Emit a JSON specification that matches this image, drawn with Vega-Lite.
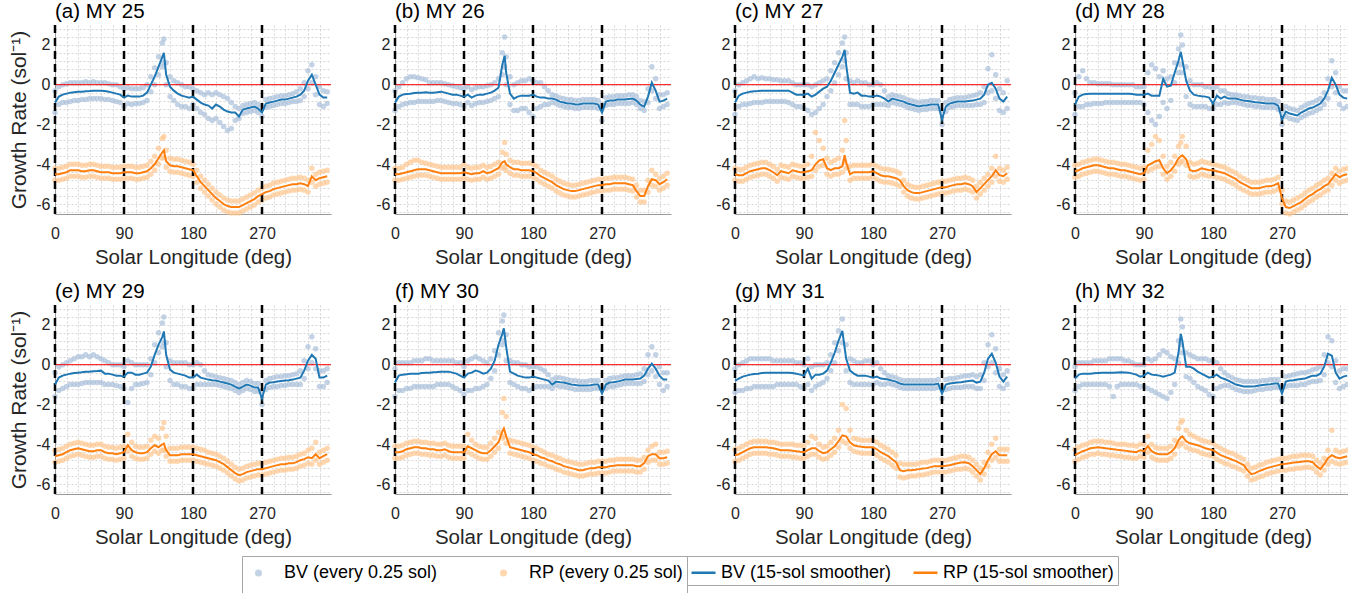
{
"$schema":"https://vega.github.io/schema/vega-lite/v6.json",
"background":"white",
"padding":{"left":8,"top":2,"right":0,"bottom":0},
"config":{
"font":"Liberation Sans",
"view":{"stroke":null},
"axis":{"labelFont":"Liberation Sans","labelFontSize":16,"labelColor":"#262626","titleFont":"Liberation Sans","titleFontSize":20.5,"titleFontWeight":"normal","titleColor":"#262626","grid":true,"gridColor":"#d6d6d6","gridDash":[2,2],"gridWidth":1,"ticks":false,"domainColor":"#9a9a9a","domainWidth":1,"labelOverlap":false,"labelBound":false},
"axisX":{"labelPadding":11,"titlePadding":6,"labelFlush":false},
"axisY":{"labelPadding":5,"titlePadding":6,"titleFontSize":21},
"title":{"font":"Liberation Sans","fontSize":20.5,"fontWeight":"normal","anchor":"start","color":"#000000","offset":-2,"baseline":"alphabetic","frame":"group"},
"legend":{"layout":{"bottom":{"anchor":"middle","margin":0,"bounds":"flush"}}}
},
"datasets":{
"a":[
{"x":0,"B":-0.9,"b":-0.3,"c":-1.4,"R":-4.5,"r":-4.2,"s":-4.8},
{"x":5,"B":-0.6,"b":-0.1,"c":-1.0,"R":-4.5,"r":-4.2,"s":-4.8},
{"x":10,"B":-0.5,"b":0.0,"c":-0.9,"R":-4.45,"r":-4.15,"s":-4.75},
{"x":15,"B":-0.45,"b":0.05,"c":-0.9,"R":-4.4,"r":-4.1,"s":-4.7},
{"x":20,"B":-0.4,"b":0.1,"c":-0.85,"R":-4.3,"r":-4.0,"s":-4.6},
{"x":25,"B":-0.38,"b":0.1,"c":-0.8,"R":-4.3,"r":-4.0,"s":-4.6},
{"x":30,"B":-0.36,"b":0.1,"c":-0.8,"R":-4.3,"r":-4.0,"s":-4.6},
{"x":35,"B":-0.35,"b":0.1,"c":-0.75,"R":-4.35,"r":-4.05,"s":-4.65},
{"x":40,"B":-0.33,"b":0.15,"c":-0.75,"R":-4.35,"r":-4.05,"s":-4.65},
{"x":45,"B":-0.32,"b":0.1,"c":-0.7,"R":-4.3,"r":-4.0,"s":-4.6},
{"x":50,"B":-0.3,"b":0.15,"c":-0.7,"R":-4.3,"r":-4.0,"s":-4.6},
{"x":55,"B":-0.3,"b":0.1,"c":-0.7,"R":-4.35,"r":-4.05,"s":-4.65},
{"x":60,"B":-0.3,"b":0.1,"c":-0.7,"R":-4.4,"r":-4.1,"s":-4.7},
{"x":65,"B":-0.32,"b":0.1,"c":-0.75,"R":-4.4,"r":-4.1,"s":-4.7},
{"x":70,"B":-0.35,"b":0.05,"c":-0.75,"R":-4.4,"r":-4.1,"s":-4.7},
{"x":75,"B":-0.4,"b":0.0,"c":-0.8,"R":-4.45,"r":-4.15,"s":-4.75},
{"x":80,"B":-0.45,"b":0.0,"c":-0.85,"R":-4.45,"r":-4.15,"s":-4.75},
{"x":85,"B":-0.5,"b":-0.1,"c":-0.9,"R":-4.45,"r":-4.15,"s":-4.75},
{"x":90,"B":-0.65,"b":-0.2,"c":-1.1,"R":-4.4,"r":-4.1,"s":-4.7},
{"x":95,"B":-0.55,"b":-0.15,"c":-0.95,"R":-4.4,"r":-4.1,"s":-4.7},
{"x":100,"B":-0.6,"b":-0.2,"c":-1.0,"R":-4.4,"r":-4.1,"s":-4.7},
{"x":105,"B":-0.6,"b":-0.2,"c":-0.95,"R":-4.45,"r":-4.15,"s":-4.75},
{"x":110,"B":-0.6,"b":-0.2,"c":-0.95,"R":-4.45,"r":-4.15,"s":-4.75},
{"x":115,"B":-0.55,"b":-0.15,"c":-0.9,"R":-4.4,"r":-4.1,"s":-4.7},
{"x":120,"B":-0.4,"b":0.0,"c":-0.8,"R":-4.35,"r":-4.05,"s":-4.65},
{"x":125,"B":0.0,"b":0.4,"c":-0.35,"R":-4.2,"r":-3.85,"s":-4.5},
{"x":130,"B":0.4,"b":0.85,"c":0.0,"R":-4.0,"r":-3.6,"s":-4.3},
{"x":135,"B":0.9,"b":1.4,"c":0.5,"R":-3.7,"r":-3.2,"s":-4.0},
{"x":140,"B":1.4,"b":2.1,"c":0.9,"R":-3.4,"r":-2.7,"s":-3.7},
{"x":142,"B":1.6,"b":2.3,"c":1.1,"R":-3.3,"r":-2.6,"s":-3.65},
{"x":145,"B":0.5,"b":1.1,"c":0.0,"R":-3.85,"r":-3.3,"s":-4.15},
{"x":150,"B":-0.1,"b":0.4,"c":-0.6,"R":-4.05,"r":-3.7,"s":-4.35},
{"x":155,"B":-0.3,"b":0.2,"c":-0.8,"R":-4.1,"r":-3.75,"s":-4.4},
{"x":160,"B":-0.45,"b":0.1,"c":-1.0,"R":-4.1,"r":-3.75,"s":-4.4},
{"x":165,"B":-0.55,"b":0.0,"c":-1.1,"R":-4.15,"r":-3.8,"s":-4.45},
{"x":170,"B":-0.6,"b":-0.1,"c":-1.1,"R":-4.2,"r":-3.85,"s":-4.5},
{"x":175,"B":-0.65,"b":-0.1,"c":-1.2,"R":-4.25,"r":-3.9,"s":-4.55},
{"x":180,"B":-0.6,"b":-0.2,"c":-1.0,"R":-4.3,"r":-4.0,"s":-4.6},
{"x":185,"B":-0.75,"b":-0.3,"c":-1.2,"R":-4.6,"r":-4.3,"s":-4.9},
{"x":190,"B":-0.9,"b":-0.4,"c":-1.4,"R":-4.9,"r":-4.6,"s":-5.2},
{"x":195,"B":-1.0,"b":-0.5,"c":-1.5,"R":-5.1,"r":-4.8,"s":-5.4},
{"x":200,"B":-1.05,"b":-0.4,"c":-1.7,"R":-5.3,"r":-5.0,"s":-5.6},
{"x":205,"B":-1.2,"b":-0.5,"c":-1.8,"R":-5.5,"r":-5.2,"s":-5.8},
{"x":210,"B":-1.0,"b":-0.4,"c":-1.7,"R":-5.7,"r":-5.4,"s":-6.0},
{"x":215,"B":-1.1,"b":-0.5,"c":-1.9,"R":-5.85,"r":-5.55,"s":-6.15},
{"x":220,"B":-1.25,"b":-0.6,"c":-2.1,"R":-6.0,"r":-5.7,"s":-6.3},
{"x":225,"B":-1.35,"b":-0.7,"c":-2.3,"R":-6.1,"r":-5.8,"s":-6.4},
{"x":230,"B":-1.4,"b":-0.9,"c":-2.2,"R":-6.15,"r":-5.85,"s":-6.45},
{"x":235,"B":-1.4,"b":-1.1,"c":-1.8,"R":-6.15,"r":-5.85,"s":-6.45},
{"x":240,"B":-1.6,"b":-1.2,"c":-1.7,"R":-6.15,"r":-5.85,"s":-6.45},
{"x":245,"B":-1.25,"b":-1.05,"c":-1.45,"R":-6.05,"r":-5.75,"s":-6.35},
{"x":250,"B":-1.2,"b":-1.0,"c":-1.4,"R":-5.95,"r":-5.65,"s":-6.25},
{"x":255,"B":-1.15,"b":-0.95,"c":-1.35,"R":-5.85,"r":-5.55,"s":-6.15},
{"x":260,"B":-1.1,"b":-0.9,"c":-1.3,"R":-5.75,"r":-5.45,"s":-6.05},
{"x":265,"B":-1.2,"b":-1.0,"c":-1.4,"R":-5.6,"r":-5.3,"s":-5.9},
{"x":270,"B":-1.4,"b":-1.1,"c":-1.6,"R":-5.5,"r":-5.2,"s":-5.8},
{"x":275,"B":-0.95,"b":-0.75,"c":-1.15,"R":-5.4,"r":-5.1,"s":-5.7},
{"x":280,"B":-0.9,"b":-0.7,"c":-1.1,"R":-5.35,"r":-5.05,"s":-5.65},
{"x":285,"B":-0.85,"b":-0.65,"c":-1.05,"R":-5.25,"r":-4.95,"s":-5.55},
{"x":290,"B":-0.8,"b":-0.6,"c":-1.0,"R":-5.2,"r":-4.9,"s":-5.5},
{"x":295,"B":-0.75,"b":-0.55,"c":-0.95,"R":-5.15,"r":-4.85,"s":-5.45},
{"x":300,"B":-0.75,"b":-0.55,"c":-0.95,"R":-5.1,"r":-4.8,"s":-5.4},
{"x":305,"B":-0.7,"b":-0.5,"c":-0.9,"R":-5.05,"r":-4.75,"s":-5.35},
{"x":310,"B":-0.65,"b":-0.45,"c":-0.85,"R":-5.0,"r":-4.7,"s":-5.3},
{"x":315,"B":-0.6,"b":-0.35,"c":-0.85,"R":-5.0,"r":-4.7,"s":-5.3},
{"x":320,"B":-0.5,"b":-0.2,"c":-0.8,"R":-4.95,"r":-4.65,"s":-5.25},
{"x":325,"B":-0.3,"b":0.1,"c":-0.6,"R":-5.0,"r":-4.7,"s":-5.3},
{"x":330,"B":0.2,"b":0.7,"c":-0.2,"R":-5.1,"r":-4.8,"s":-5.4},
{"x":335,"B":0.5,"b":1.0,"c":0.1,"R":-4.6,"r":-4.2,"s":-4.9},
{"x":340,"B":0.0,"b":0.4,"c":-0.5,"R":-4.8,"r":-4.5,"s":-5.1},
{"x":345,"B":-0.5,"b":-0.1,"c":-1.0,"R":-4.7,"r":-4.4,"s":-5.0},
{"x":350,"B":-0.65,"b":-0.3,"c":-1.1,"R":-4.65,"r":-4.35,"s":-4.95},
{"x":355,"B":-0.65,"b":-0.35,"c":-0.95,"R":-4.6,"r":-4.3,"s":-4.9}
],
"b":[
{"x":0,"B":-0.9,"b":-0.3,"c":-1.3,"R":-4.5,"r":-4.2,"s":-4.8},
{"x":5,"B":-0.6,"b":-0.1,"c":-1.1,"R":-4.5,"r":-4.2,"s":-4.8},
{"x":10,"B":-0.5,"b":0.1,"c":-1.0,"R":-4.45,"r":-4.15,"s":-4.75},
{"x":15,"B":-0.47,"b":0.3,"c":-0.95,"R":-4.4,"r":-4.0,"s":-4.7},
{"x":20,"B":-0.45,"b":0.4,"c":-0.9,"R":-4.35,"r":-3.9,"s":-4.65},
{"x":25,"B":-0.42,"b":0.4,"c":-0.9,"R":-4.3,"r":-3.8,"s":-4.6},
{"x":30,"B":-0.4,"b":0.35,"c":-0.85,"R":-4.25,"r":-3.8,"s":-4.55},
{"x":35,"B":-0.4,"b":0.3,"c":-0.85,"R":-4.25,"r":-3.9,"s":-4.55},
{"x":40,"B":-0.38,"b":0.25,"c":-0.85,"R":-4.25,"r":-3.95,"s":-4.55},
{"x":45,"B":-0.4,"b":0.1,"c":-0.85,"R":-4.3,"r":-4.0,"s":-4.6},
{"x":50,"B":-0.4,"b":0.1,"c":-0.85,"R":-4.35,"r":-4.05,"s":-4.65},
{"x":55,"B":-0.38,"b":0.1,"c":-0.8,"R":-4.4,"r":-4.1,"s":-4.7},
{"x":60,"B":-0.35,"b":0.1,"c":-0.8,"R":-4.45,"r":-4.15,"s":-4.75},
{"x":65,"B":-0.4,"b":0.05,"c":-0.85,"R":-4.45,"r":-4.15,"s":-4.75},
{"x":70,"B":-0.45,"b":0.0,"c":-0.9,"R":-4.45,"r":-4.15,"s":-4.75},
{"x":75,"B":-0.5,"b":-0.05,"c":-0.95,"R":-4.45,"r":-4.15,"s":-4.75},
{"x":80,"B":-0.5,"b":-0.1,"c":-0.95,"R":-4.45,"r":-4.15,"s":-4.75},
{"x":85,"B":-0.55,"b":-0.15,"c":-1.0,"R":-4.45,"r":-4.15,"s":-4.75},
{"x":90,"B":-0.6,"b":-0.2,"c":-1.1,"R":-4.4,"r":-4.0,"s":-4.7},
{"x":95,"B":-0.5,"b":-0.1,"c":-0.9,"R":-4.45,"r":-4.15,"s":-4.75},
{"x":100,"B":-0.65,"b":-0.25,"c":-1.05,"R":-4.5,"r":-4.2,"s":-4.8},
{"x":105,"B":-0.55,"b":-0.15,"c":-0.95,"R":-4.45,"r":-4.15,"s":-4.75},
{"x":110,"B":-0.5,"b":-0.1,"c":-0.9,"R":-4.45,"r":-4.15,"s":-4.75},
{"x":115,"B":-0.5,"b":-0.1,"c":-0.9,"R":-4.35,"r":-4.05,"s":-4.65},
{"x":120,"B":-0.45,"b":-0.05,"c":-0.85,"R":-4.45,"r":-4.15,"s":-4.75},
{"x":125,"B":-0.4,"b":0.0,"c":-0.8,"R":-4.4,"r":-4.1,"s":-4.7},
{"x":130,"B":-0.3,"b":0.1,"c":-0.7,"R":-4.3,"r":-4.0,"s":-4.6},
{"x":135,"B":-0.15,"b":0.3,"c":-0.6,"R":-4.2,"r":-3.9,"s":-4.5},
{"x":140,"B":1.0,"b":1.6,"c":0.5,"R":-3.9,"r":-3.4,"s":-4.2},
{"x":143,"B":1.45,"b":2.4,"c":0.9,"R":-3.85,"r":-2.9,"s":-4.15},
{"x":145,"B":0.6,"b":1.4,"c":0.0,"R":-4.0,"r":-3.5,"s":-4.3},
{"x":150,"B":-0.45,"b":0.4,"c":-1.0,"R":-4.15,"r":-3.8,"s":-4.45},
{"x":155,"B":-0.7,"b":0.0,"c":-1.3,"R":-4.25,"r":-3.9,"s":-4.55},
{"x":160,"B":-0.6,"b":0.1,"c":-1.3,"R":-4.25,"r":-3.9,"s":-4.55},
{"x":165,"B":-0.55,"b":0.2,"c":-1.2,"R":-4.3,"r":-3.95,"s":-4.6},
{"x":170,"B":-0.55,"b":0.2,"c":-1.2,"R":-4.3,"r":-3.95,"s":-4.6},
{"x":175,"B":-0.55,"b":0.3,"c":-1.4,"R":-4.3,"r":-3.95,"s":-4.6},
{"x":180,"B":-0.5,"b":0.2,"c":-1.6,"R":-4.35,"r":-4.0,"s":-4.65},
{"x":185,"B":-0.6,"b":0.1,"c":-1.2,"R":-4.45,"r":-4.1,"s":-4.75},
{"x":190,"B":-0.65,"b":0.1,"c":-1.1,"R":-4.6,"r":-4.3,"s":-4.9},
{"x":195,"B":-0.65,"b":-0.1,"c":-1.0,"R":-4.7,"r":-4.4,"s":-5.0},
{"x":200,"B":-0.7,"b":-0.3,"c":-1.0,"R":-4.8,"r":-4.5,"s":-5.1},
{"x":205,"B":-0.7,"b":-0.5,"c":-0.9,"R":-4.9,"r":-4.6,"s":-5.2},
{"x":210,"B":-0.75,"b":-0.55,"c":-0.95,"R":-5.05,"r":-4.75,"s":-5.35},
{"x":215,"B":-0.85,"b":-0.65,"c":-1.05,"R":-5.15,"r":-4.85,"s":-5.45},
{"x":220,"B":-0.9,"b":-0.7,"c":-1.1,"R":-5.25,"r":-4.95,"s":-5.55},
{"x":225,"B":-0.95,"b":-0.75,"c":-1.15,"R":-5.3,"r":-5.0,"s":-5.6},
{"x":230,"B":-0.95,"b":-0.75,"c":-1.15,"R":-5.35,"r":-5.05,"s":-5.65},
{"x":235,"B":-1.0,"b":-0.8,"c":-1.2,"R":-5.35,"r":-5.05,"s":-5.65},
{"x":240,"B":-1.0,"b":-0.8,"c":-1.2,"R":-5.3,"r":-5.0,"s":-5.6},
{"x":245,"B":-0.95,"b":-0.75,"c":-1.15,"R":-5.25,"r":-4.95,"s":-5.55},
{"x":250,"B":-0.95,"b":-0.75,"c":-1.15,"R":-5.2,"r":-4.9,"s":-5.5},
{"x":255,"B":-0.95,"b":-0.75,"c":-1.15,"R":-5.15,"r":-4.85,"s":-5.45},
{"x":260,"B":-0.95,"b":-0.75,"c":-1.15,"R":-5.1,"r":-4.8,"s":-5.4},
{"x":265,"B":-1.0,"b":-0.8,"c":-1.2,"R":-5.05,"r":-4.75,"s":-5.35},
{"x":270,"B":-1.4,"b":-1.0,"c":-1.8,"R":-5.05,"r":-4.75,"s":-5.35},
{"x":275,"B":-0.85,"b":-0.65,"c":-1.05,"R":-5.0,"r":-4.7,"s":-5.3},
{"x":280,"B":-0.8,"b":-0.6,"c":-1.0,"R":-5.0,"r":-4.7,"s":-5.3},
{"x":285,"B":-0.8,"b":-0.6,"c":-1.0,"R":-4.95,"r":-4.65,"s":-5.25},
{"x":290,"B":-0.75,"b":-0.55,"c":-0.95,"R":-4.95,"r":-4.65,"s":-5.25},
{"x":295,"B":-0.75,"b":-0.55,"c":-0.95,"R":-4.95,"r":-4.65,"s":-5.25},
{"x":300,"B":-0.75,"b":-0.55,"c":-0.95,"R":-4.95,"r":-4.65,"s":-5.25},
{"x":305,"B":-0.72,"b":-0.5,"c":-0.95,"R":-5.0,"r":-4.7,"s":-5.3},
{"x":310,"B":-0.7,"b":-0.5,"c":-0.9,"R":-5.05,"r":-4.75,"s":-5.35},
{"x":315,"B":-0.8,"b":-0.6,"c":-1.0,"R":-5.35,"r":-5.05,"s":-5.65},
{"x":320,"B":-1.0,"b":-0.8,"c":-1.2,"R":-5.6,"r":-5.3,"s":-5.9},
{"x":325,"B":-1.1,"b":-0.85,"c":-1.3,"R":-5.6,"r":-5.3,"s":-5.9},
{"x":330,"B":-0.6,"b":-0.2,"c":-0.9,"R":-5.1,"r":-4.8,"s":-5.4},
{"x":335,"B":0.1,"b":0.9,"c":-0.3,"R":-4.75,"r":-4.3,"s":-5.05},
{"x":340,"B":-0.3,"b":0.3,"c":-0.7,"R":-4.8,"r":-4.5,"s":-5.1},
{"x":345,"B":-0.85,"b":-0.5,"c":-1.2,"R":-5.0,"r":-4.7,"s":-5.3},
{"x":350,"B":-0.8,"b":-0.5,"c":-1.1,"R":-4.9,"r":-4.6,"s":-5.2},
{"x":355,"B":-0.7,"b":-0.4,"c":-1.0,"R":-4.75,"r":-4.45,"s":-5.05}
],
"c":[
{"x":0,"B":-0.9,"b":-0.3,"c":-1.5,"R":-4.5,"r":-4.2,"s":-4.8},
{"x":5,"B":-0.55,"b":0.0,"c":-1.1,"R":-4.55,"r":-4.25,"s":-4.85},
{"x":10,"B":-0.45,"b":0.1,"c":-1.0,"R":-4.55,"r":-4.25,"s":-4.85},
{"x":15,"B":-0.4,"b":0.2,"c":-1.0,"R":-4.45,"r":-4.15,"s":-4.75},
{"x":20,"B":-0.35,"b":0.3,"c":-0.95,"R":-4.35,"r":-4.05,"s":-4.65},
{"x":25,"B":-0.33,"b":0.4,"c":-0.9,"R":-4.3,"r":-4.0,"s":-4.6},
{"x":30,"B":-0.32,"b":0.3,"c":-0.9,"R":-4.25,"r":-3.95,"s":-4.55},
{"x":35,"B":-0.3,"b":0.35,"c":-0.9,"R":-4.2,"r":-3.9,"s":-4.5},
{"x":40,"B":-0.3,"b":0.3,"c":-0.85,"R":-4.2,"r":-3.9,"s":-4.5},
{"x":45,"B":-0.3,"b":0.3,"c":-0.85,"R":-4.3,"r":-4.0,"s":-4.6},
{"x":50,"B":-0.3,"b":0.25,"c":-0.85,"R":-4.4,"r":-4.1,"s":-4.7},
{"x":55,"B":-0.3,"b":0.25,"c":-0.85,"R":-4.55,"r":-4.25,"s":-4.85},
{"x":60,"B":-0.3,"b":0.2,"c":-0.85,"R":-4.35,"r":-4.05,"s":-4.65},
{"x":65,"B":-0.3,"b":0.2,"c":-0.85,"R":-4.4,"r":-4.1,"s":-4.7},
{"x":70,"B":-0.3,"b":0.2,"c":-0.9,"R":-4.45,"r":-4.15,"s":-4.75},
{"x":75,"B":-0.4,"b":0.1,"c":-1.0,"R":-4.3,"r":-4.0,"s":-4.6},
{"x":80,"B":-0.5,"b":0.0,"c":-1.1,"R":-4.35,"r":-4.05,"s":-4.65},
{"x":85,"B":-0.5,"b":0.0,"c":-1.1,"R":-4.4,"r":-4.1,"s":-4.7},
{"x":90,"B":-0.5,"b":0.0,"c":-1.2,"R":-4.4,"r":-4.1,"s":-4.7},
{"x":95,"B":-0.45,"b":0.0,"c":-1.3,"R":-4.35,"r":-4.0,"s":-4.65},
{"x":100,"B":-0.6,"b":-0.1,"c":-1.5,"R":-4.3,"r":-3.6,"s":-4.6},
{"x":105,"B":-0.5,"b":0.0,"c":-1.4,"R":-4.0,"r":-2.4,"s":-4.3},
{"x":110,"B":-0.35,"b":0.1,"c":-1.2,"R":-3.8,"r":-2.8,"s":-4.1},
{"x":115,"B":-0.2,"b":0.2,"c":-1.0,"R":-3.75,"r":-3.2,"s":-4.05},
{"x":120,"B":-0.1,"b":0.3,"c":-0.6,"R":-4.2,"r":-3.7,"s":-4.5},
{"x":125,"B":0.2,"b":0.7,"c":-0.3,"R":-4.3,"r":-3.9,"s":-4.6},
{"x":130,"B":0.6,"b":1.1,"c":0.1,"R":-4.2,"r":-3.8,"s":-4.5},
{"x":135,"B":1.0,"b":1.6,"c":0.5,"R":-4.2,"r":-3.7,"s":-4.5},
{"x":140,"B":1.4,"b":2.1,"c":0.9,"R":-4.1,"r":-3.3,"s":-4.4},
{"x":143,"B":1.75,"b":2.4,"c":1.2,"R":-3.55,"r":-1.8,"s":-3.9},
{"x":145,"B":1.0,"b":1.6,"c":0.3,"R":-3.9,"r":-2.8,"s":-4.2},
{"x":150,"B":-0.4,"b":0.2,"c":-1.0,"R":-4.5,"r":-4.1,"s":-4.8},
{"x":155,"B":-0.45,"b":0.1,"c":-1.0,"R":-4.4,"r":-4.05,"s":-4.7},
{"x":160,"B":-0.4,"b":0.2,"c":-1.0,"R":-4.4,"r":-4.05,"s":-4.7},
{"x":165,"B":-0.55,"b":0.1,"c":-1.1,"R":-4.4,"r":-4.05,"s":-4.7},
{"x":170,"B":-0.55,"b":0.1,"c":-1.1,"R":-4.4,"r":-4.05,"s":-4.7},
{"x":175,"B":-0.6,"b":0.0,"c":-1.1,"R":-4.4,"r":-4.05,"s":-4.7},
{"x":180,"B":-0.6,"b":0.0,"c":-1.0,"R":-4.35,"r":-4.0,"s":-4.65},
{"x":185,"B":-0.55,"b":0.1,"c":-1.0,"R":-4.45,"r":-4.1,"s":-4.75},
{"x":190,"B":-0.6,"b":0.0,"c":-1.0,"R":-4.55,"r":-4.2,"s":-4.85},
{"x":195,"B":-0.7,"b":-0.3,"c":-1.0,"R":-4.6,"r":-4.25,"s":-4.9},
{"x":200,"B":-0.85,"b":-0.6,"c":-1.05,"R":-4.6,"r":-4.25,"s":-4.9},
{"x":205,"B":-0.7,"b":-0.5,"c":-0.9,"R":-4.65,"r":-4.3,"s":-4.95},
{"x":210,"B":-0.75,"b":-0.55,"c":-0.95,"R":-4.7,"r":-4.35,"s":-5.0},
{"x":215,"B":-0.8,"b":-0.6,"c":-1.0,"R":-4.8,"r":-4.45,"s":-5.1},
{"x":220,"B":-0.85,"b":-0.65,"c":-1.05,"R":-5.1,"r":-4.8,"s":-5.4},
{"x":225,"B":-0.95,"b":-0.75,"c":-1.15,"R":-5.3,"r":-5.0,"s":-5.6},
{"x":230,"B":-1.0,"b":-0.8,"c":-1.2,"R":-5.4,"r":-5.1,"s":-5.7},
{"x":235,"B":-1.05,"b":-0.85,"c":-1.25,"R":-5.45,"r":-5.15,"s":-5.75},
{"x":240,"B":-1.1,"b":-0.9,"c":-1.3,"R":-5.45,"r":-5.15,"s":-5.75},
{"x":245,"B":-1.05,"b":-0.85,"c":-1.25,"R":-5.4,"r":-5.1,"s":-5.7},
{"x":250,"B":-1.05,"b":-0.85,"c":-1.25,"R":-5.35,"r":-5.05,"s":-5.65},
{"x":255,"B":-1.0,"b":-0.8,"c":-1.2,"R":-5.3,"r":-5.0,"s":-5.6},
{"x":260,"B":-1.0,"b":-0.8,"c":-1.2,"R":-5.25,"r":-4.95,"s":-5.55},
{"x":265,"B":-1.0,"b":-0.8,"c":-1.2,"R":-5.2,"r":-4.9,"s":-5.5},
{"x":270,"B":-1.75,"b":-1.3,"c":-2.0,"R":-5.15,"r":-4.85,"s":-5.45},
{"x":275,"B":-1.1,"b":-0.9,"c":-1.35,"R":-5.15,"r":-4.85,"s":-5.45},
{"x":280,"B":-0.95,"b":-0.75,"c":-1.15,"R":-5.1,"r":-4.8,"s":-5.4},
{"x":285,"B":-0.9,"b":-0.7,"c":-1.1,"R":-5.05,"r":-4.75,"s":-5.35},
{"x":290,"B":-0.85,"b":-0.65,"c":-1.05,"R":-5.0,"r":-4.7,"s":-5.3},
{"x":295,"B":-0.85,"b":-0.65,"c":-1.05,"R":-5.0,"r":-4.7,"s":-5.3},
{"x":300,"B":-0.85,"b":-0.65,"c":-1.05,"R":-4.95,"r":-4.65,"s":-5.25},
{"x":305,"B":-0.82,"b":-0.6,"c":-1.05,"R":-5.0,"r":-4.7,"s":-5.3},
{"x":310,"B":-0.8,"b":-0.55,"c":-1.05,"R":-5.1,"r":-4.8,"s":-5.4},
{"x":315,"B":-0.75,"b":-0.5,"c":-1.0,"R":-5.4,"r":-5.1,"s":-5.7},
{"x":320,"B":-0.7,"b":-0.4,"c":-1.0,"R":-5.2,"r":-4.9,"s":-5.5},
{"x":325,"B":-0.5,"b":-0.1,"c":-0.9,"R":-5.0,"r":-4.7,"s":-5.3},
{"x":330,"B":0.0,"b":0.8,"c":-0.4,"R":-4.8,"r":-4.5,"s":-5.1},
{"x":335,"B":0.1,"b":1.5,"c":-0.3,"R":-4.6,"r":-4.2,"s":-4.9},
{"x":340,"B":-0.2,"b":0.5,"c":-0.7,"R":-4.3,"r":-3.6,"s":-4.6},
{"x":345,"B":-0.7,"b":-0.2,"c":-1.3,"R":-4.55,"r":-4.2,"s":-4.85},
{"x":350,"B":-0.85,"b":-0.4,"c":-1.4,"R":-4.6,"r":-4.3,"s":-4.9},
{"x":355,"B":-0.6,"b":0.2,"c":-1.2,"R":-4.45,"r":-4.15,"s":-4.75}
],
"d":[
{"x":0,"B":-1.0,"b":-0.4,"c":-1.5,"R":-4.35,"r":-4.05,"s":-4.65},
{"x":5,"B":-0.6,"b":0.4,"c":-1.1,"R":-4.3,"r":-4.0,"s":-4.6},
{"x":10,"B":-0.5,"b":0.7,"c":-1.1,"R":-4.2,"r":-3.9,"s":-4.5},
{"x":15,"B":-0.47,"b":0.3,"c":-1.0,"R":-4.15,"r":-3.85,"s":-4.45},
{"x":20,"B":-0.45,"b":0.1,"c":-1.0,"R":-4.1,"r":-3.8,"s":-4.4},
{"x":25,"B":-0.45,"b":0.1,"c":-0.95,"R":-4.05,"r":-3.75,"s":-4.35},
{"x":30,"B":-0.45,"b":0.05,"c":-0.95,"R":-4.05,"r":-3.75,"s":-4.35},
{"x":35,"B":-0.45,"b":0.05,"c":-0.95,"R":-4.1,"r":-3.8,"s":-4.4},
{"x":40,"B":-0.45,"b":0.05,"c":-0.9,"R":-4.15,"r":-3.85,"s":-4.45},
{"x":45,"B":-0.45,"b":0.05,"c":-0.9,"R":-4.2,"r":-3.9,"s":-4.5},
{"x":50,"B":-0.45,"b":0.0,"c":-0.9,"R":-4.2,"r":-3.9,"s":-4.5},
{"x":55,"B":-0.45,"b":0.0,"c":-0.9,"R":-4.25,"r":-3.95,"s":-4.55},
{"x":60,"B":-0.45,"b":0.0,"c":-0.9,"R":-4.3,"r":-4.0,"s":-4.6},
{"x":65,"B":-0.45,"b":0.0,"c":-0.9,"R":-4.3,"r":-4.0,"s":-4.6},
{"x":70,"B":-0.45,"b":0.0,"c":-0.9,"R":-4.35,"r":-4.05,"s":-4.65},
{"x":75,"B":-0.47,"b":0.0,"c":-0.9,"R":-4.4,"r":-4.1,"s":-4.7},
{"x":80,"B":-0.5,"b":-0.1,"c":-0.9,"R":-4.45,"r":-4.15,"s":-4.75},
{"x":85,"B":-0.5,"b":-0.1,"c":-0.9,"R":-4.5,"r":-4.2,"s":-4.8},
{"x":90,"B":-0.5,"b":-0.1,"c":-1.0,"R":-4.45,"r":-4.15,"s":-4.75},
{"x":95,"B":-0.45,"b":0.6,"c":-1.4,"R":-4.05,"r":-3.3,"s":-4.35},
{"x":100,"B":-0.55,"b":1.0,"c":-1.8,"R":-3.95,"r":-3.0,"s":-4.25},
{"x":105,"B":-0.55,"b":0.8,"c":-2.0,"R":-3.85,"r":-2.6,"s":-4.15},
{"x":110,"B":-0.55,"b":0.4,"c":-1.6,"R":-3.8,"r":-2.8,"s":-4.1},
{"x":115,"B":0.3,"b":0.7,"c":-0.9,"R":-4.2,"r":-3.6,"s":-4.5},
{"x":120,"B":-0.1,"b":0.3,"c":-1.2,"R":-4.45,"r":-4.1,"s":-4.75},
{"x":125,"B":-0.05,"b":0.4,"c":-0.8,"R":-4.3,"r":-3.9,"s":-4.6},
{"x":130,"B":0.6,"b":1.1,"c":0.1,"R":-4.05,"r":-3.6,"s":-4.35},
{"x":135,"B":1.2,"b":1.8,"c":0.6,"R":-3.7,"r":-3.1,"s":-4.0},
{"x":138,"B":1.65,"b":2.5,"c":1.0,"R":-3.6,"r":-2.9,"s":-3.9},
{"x":140,"B":1.25,"b":2.0,"c":0.6,"R":-3.55,"r":-2.6,"s":-3.85},
{"x":145,"B":0.2,"b":0.9,"c":-0.6,"R":-3.75,"r":-3.1,"s":-4.05},
{"x":150,"B":-0.3,"b":0.2,"c":-1.0,"R":-4.3,"r":-3.9,"s":-4.6},
{"x":155,"B":-0.5,"b":0.0,"c":-1.1,"R":-4.35,"r":-4.0,"s":-4.65},
{"x":160,"B":-0.55,"b":0.0,"c":-1.1,"R":-4.3,"r":-3.95,"s":-4.6},
{"x":165,"B":-0.58,"b":0.0,"c":-1.1,"R":-4.2,"r":-3.85,"s":-4.5},
{"x":170,"B":-0.6,"b":-0.1,"c":-1.1,"R":-4.25,"r":-3.9,"s":-4.55},
{"x":175,"B":-0.65,"b":-0.1,"c":-1.2,"R":-4.3,"r":-3.95,"s":-4.6},
{"x":180,"B":-0.95,"b":-0.2,"c":-1.2,"R":-4.3,"r":-4.0,"s":-4.6},
{"x":185,"B":-0.55,"b":-0.1,"c":-1.0,"R":-4.35,"r":-4.05,"s":-4.65},
{"x":190,"B":-0.7,"b":-0.3,"c":-1.0,"R":-4.4,"r":-4.1,"s":-4.7},
{"x":195,"B":-0.6,"b":-0.3,"c":-0.9,"R":-4.45,"r":-4.15,"s":-4.75},
{"x":200,"B":-0.7,"b":-0.45,"c":-0.95,"R":-4.55,"r":-4.25,"s":-4.85},
{"x":205,"B":-0.7,"b":-0.5,"c":-0.9,"R":-4.65,"r":-4.35,"s":-4.95},
{"x":210,"B":-0.7,"b":-0.5,"c":-0.9,"R":-4.75,"r":-4.45,"s":-5.05},
{"x":215,"B":-0.75,"b":-0.55,"c":-0.95,"R":-4.9,"r":-4.6,"s":-5.2},
{"x":220,"B":-0.8,"b":-0.6,"c":-1.0,"R":-5.0,"r":-4.7,"s":-5.3},
{"x":225,"B":-0.82,"b":-0.6,"c":-1.05,"R":-5.1,"r":-4.8,"s":-5.4},
{"x":230,"B":-0.85,"b":-0.65,"c":-1.05,"R":-5.2,"r":-4.9,"s":-5.5},
{"x":235,"B":-0.88,"b":-0.65,"c":-1.1,"R":-5.2,"r":-4.9,"s":-5.5},
{"x":240,"B":-0.9,"b":-0.7,"c":-1.1,"R":-5.2,"r":-4.9,"s":-5.5},
{"x":245,"B":-0.92,"b":-0.7,"c":-1.15,"R":-5.15,"r":-4.85,"s":-5.45},
{"x":250,"B":-0.95,"b":-0.75,"c":-1.15,"R":-5.1,"r":-4.8,"s":-5.4},
{"x":255,"B":-0.95,"b":-0.75,"c":-1.15,"R":-5.1,"r":-4.8,"s":-5.4},
{"x":260,"B":-0.95,"b":-0.75,"c":-1.15,"R":-5.05,"r":-4.75,"s":-5.35},
{"x":265,"B":-1.05,"b":-0.85,"c":-1.25,"R":-4.95,"r":-4.65,"s":-5.25},
{"x":270,"B":-1.75,"b":-1.3,"c":-2.0,"R":-5.7,"r":-5.3,"s":-6.0},
{"x":275,"B":-1.35,"b":-1.1,"c":-1.6,"R":-6.15,"r":-5.85,"s":-6.45},
{"x":280,"B":-1.45,"b":-1.2,"c":-1.7,"R":-6.2,"r":-5.9,"s":-6.5},
{"x":285,"B":-1.5,"b":-1.25,"c":-1.75,"R":-6.1,"r":-5.8,"s":-6.4},
{"x":290,"B":-1.55,"b":-1.3,"c":-1.8,"R":-6.0,"r":-5.7,"s":-6.3},
{"x":295,"B":-1.4,"b":-1.15,"c":-1.65,"R":-5.9,"r":-5.6,"s":-6.2},
{"x":300,"B":-1.3,"b":-1.05,"c":-1.55,"R":-5.75,"r":-5.45,"s":-6.05},
{"x":305,"B":-1.2,"b":-0.95,"c":-1.45,"R":-5.6,"r":-5.3,"s":-5.9},
{"x":310,"B":-1.15,"b":-0.9,"c":-1.4,"R":-5.5,"r":-5.2,"s":-5.8},
{"x":315,"B":-1.05,"b":-0.8,"c":-1.3,"R":-5.35,"r":-5.05,"s":-5.65},
{"x":320,"B":-0.95,"b":-0.7,"c":-1.2,"R":-5.25,"r":-4.95,"s":-5.55},
{"x":325,"B":-0.7,"b":-0.4,"c":-1.0,"R":-5.1,"r":-4.8,"s":-5.4},
{"x":330,"B":-0.3,"b":0.3,"c":-0.7,"R":-5.0,"r":-4.7,"s":-5.3},
{"x":335,"B":0.35,"b":1.2,"c":-0.1,"R":-4.75,"r":-4.45,"s":-5.05},
{"x":340,"B":0.0,"b":0.6,"c":-0.4,"R":-4.5,"r":-4.2,"s":-4.8},
{"x":345,"B":-0.5,"b":-0.1,"c":-1.0,"R":-4.65,"r":-4.35,"s":-4.95},
{"x":350,"B":-0.65,"b":-0.3,"c":-1.2,"R":-4.55,"r":-4.25,"s":-4.85},
{"x":355,"B":-0.7,"b":-0.3,"c":-1.1,"R":-4.5,"r":-4.2,"s":-4.8}
],
"e":[
{"x":0,"B":-1.0,"b":-0.4,"c":-1.6,"R":-4.6,"r":-4.3,"s":-4.9},
{"x":5,"B":-0.65,"b":-0.1,"c":-1.3,"R":-4.55,"r":-4.25,"s":-4.85},
{"x":10,"B":-0.55,"b":0.0,"c":-1.2,"R":-4.5,"r":-4.2,"s":-4.8},
{"x":15,"B":-0.5,"b":0.1,"c":-1.1,"R":-4.4,"r":-4.1,"s":-4.7},
{"x":20,"B":-0.45,"b":0.2,"c":-1.0,"R":-4.3,"r":-4.0,"s":-4.6},
{"x":25,"B":-0.42,"b":0.3,"c":-1.0,"R":-4.25,"r":-3.95,"s":-4.55},
{"x":30,"B":-0.4,"b":0.4,"c":-1.0,"R":-4.2,"r":-3.9,"s":-4.5},
{"x":35,"B":-0.38,"b":0.4,"c":-0.95,"R":-4.25,"r":-3.95,"s":-4.55},
{"x":40,"B":-0.35,"b":0.5,"c":-0.9,"R":-4.3,"r":-4.0,"s":-4.6},
{"x":45,"B":-0.35,"b":0.4,"c":-0.9,"R":-4.35,"r":-4.05,"s":-4.65},
{"x":50,"B":-0.33,"b":0.5,"c":-0.9,"R":-4.35,"r":-4.05,"s":-4.65},
{"x":55,"B":-0.32,"b":0.4,"c":-0.9,"R":-4.3,"r":-4.0,"s":-4.6},
{"x":60,"B":-0.3,"b":0.3,"c":-0.9,"R":-4.3,"r":-4.0,"s":-4.6},
{"x":65,"B":-0.45,"b":0.2,"c":-1.0,"R":-4.4,"r":-4.1,"s":-4.7},
{"x":70,"B":-0.45,"b":0.1,"c":-1.0,"R":-4.45,"r":-4.15,"s":-4.75},
{"x":75,"B":-0.5,"b":0.0,"c":-1.0,"R":-4.45,"r":-4.15,"s":-4.75},
{"x":80,"B":-0.55,"b":0.0,"c":-1.05,"R":-4.5,"r":-4.2,"s":-4.8},
{"x":85,"B":-0.55,"b":0.0,"c":-1.1,"R":-4.45,"r":-4.15,"s":-4.75},
{"x":90,"B":-0.6,"b":-0.1,"c":-1.2,"R":-4.4,"r":-4.1,"s":-4.7},
{"x":95,"B":-0.4,"b":0.2,"c":-1.9,"R":-4.05,"r":-3.5,"s":-4.35},
{"x":100,"B":-0.4,"b":0.1,"c":-1.2,"R":-4.3,"r":-3.9,"s":-4.6},
{"x":105,"B":-0.5,"b":0.0,"c":-1.0,"R":-4.4,"r":-4.1,"s":-4.7},
{"x":110,"B":-0.5,"b":0.0,"c":-1.0,"R":-4.45,"r":-4.15,"s":-4.75},
{"x":115,"B":-0.45,"b":0.0,"c":-0.95,"R":-4.45,"r":-4.15,"s":-4.75},
{"x":120,"B":-0.4,"b":0.0,"c":-0.9,"R":-4.4,"r":-4.1,"s":-4.7},
{"x":125,"B":-0.1,"b":0.3,"c":-0.5,"R":-4.2,"r":-3.8,"s":-4.5},
{"x":130,"B":0.5,"b":1.0,"c":0.1,"R":-4.05,"r":-3.6,"s":-4.35},
{"x":135,"B":1.0,"b":1.6,"c":0.6,"R":-4.15,"r":-3.7,"s":-4.45},
{"x":140,"B":1.4,"b":2.1,"c":0.9,"R":-4.0,"r":-3.2,"s":-4.3},
{"x":142,"B":1.67,"b":2.4,"c":1.1,"R":-3.97,"r":-2.9,"s":-4.3},
{"x":145,"B":0.5,"b":1.1,"c":-0.1,"R":-4.3,"r":-3.6,"s":-4.6},
{"x":150,"B":-0.25,"b":0.2,"c":-0.8,"R":-4.55,"r":-4.2,"s":-4.85},
{"x":155,"B":-0.4,"b":0.1,"c":-1.0,"R":-4.55,"r":-4.2,"s":-4.85},
{"x":160,"B":-0.45,"b":0.1,"c":-1.0,"R":-4.55,"r":-4.2,"s":-4.85},
{"x":165,"B":-0.5,"b":0.1,"c":-1.1,"R":-4.5,"r":-4.15,"s":-4.8},
{"x":170,"B":-0.55,"b":0.1,"c":-1.1,"R":-4.5,"r":-4.15,"s":-4.8},
{"x":175,"B":-0.65,"b":0.0,"c":-1.2,"R":-4.5,"r":-4.15,"s":-4.8},
{"x":180,"B":-0.65,"b":0.0,"c":-1.2,"R":-4.5,"r":-4.15,"s":-4.8},
{"x":185,"B":-0.5,"b":0.1,"c":-1.0,"R":-4.55,"r":-4.2,"s":-4.85},
{"x":190,"B":-0.65,"b":0.0,"c":-1.0,"R":-4.6,"r":-4.25,"s":-4.9},
{"x":195,"B":-0.7,"b":-0.3,"c":-1.0,"R":-4.65,"r":-4.3,"s":-4.95},
{"x":200,"B":-0.75,"b":-0.5,"c":-1.0,"R":-4.7,"r":-4.4,"s":-5.0},
{"x":205,"B":-0.78,"b":-0.55,"c":-1.0,"R":-4.75,"r":-4.45,"s":-5.05},
{"x":210,"B":-0.8,"b":-0.6,"c":-1.0,"R":-4.8,"r":-4.5,"s":-5.1},
{"x":215,"B":-0.85,"b":-0.65,"c":-1.05,"R":-4.9,"r":-4.6,"s":-5.2},
{"x":220,"B":-0.9,"b":-0.7,"c":-1.1,"R":-5.0,"r":-4.7,"s":-5.3},
{"x":225,"B":-0.95,"b":-0.75,"c":-1.15,"R":-5.15,"r":-4.85,"s":-5.45},
{"x":230,"B":-1.0,"b":-0.8,"c":-1.2,"R":-5.3,"r":-5.0,"s":-5.6},
{"x":235,"B":-1.1,"b":-0.9,"c":-1.3,"R":-5.45,"r":-5.15,"s":-5.75},
{"x":240,"B":-1.2,"b":-1.0,"c":-1.4,"R":-5.55,"r":-5.25,"s":-5.85},
{"x":245,"B":-1.1,"b":-0.9,"c":-1.3,"R":-5.5,"r":-5.2,"s":-5.8},
{"x":250,"B":-1.0,"b":-0.8,"c":-1.2,"R":-5.4,"r":-5.1,"s":-5.7},
{"x":255,"B":-1.05,"b":-0.85,"c":-1.25,"R":-5.35,"r":-5.05,"s":-5.65},
{"x":260,"B":-1.15,"b":-0.95,"c":-1.35,"R":-5.3,"r":-5.0,"s":-5.6},
{"x":265,"B":-1.15,"b":-0.95,"c":-1.35,"R":-5.25,"r":-4.95,"s":-5.55},
{"x":270,"B":-1.7,"b":-1.3,"c":-2.0,"R":-5.25,"r":-4.95,"s":-5.55},
{"x":275,"B":-1.0,"b":-0.8,"c":-1.25,"R":-5.2,"r":-4.9,"s":-5.5},
{"x":280,"B":-0.9,"b":-0.7,"c":-1.15,"R":-5.15,"r":-4.85,"s":-5.45},
{"x":285,"B":-0.88,"b":-0.65,"c":-1.1,"R":-5.1,"r":-4.8,"s":-5.4},
{"x":290,"B":-0.85,"b":-0.6,"c":-1.1,"R":-5.05,"r":-4.75,"s":-5.35},
{"x":295,"B":-0.82,"b":-0.6,"c":-1.05,"R":-5.0,"r":-4.7,"s":-5.3},
{"x":300,"B":-0.8,"b":-0.55,"c":-1.05,"R":-5.0,"r":-4.7,"s":-5.3},
{"x":305,"B":-0.78,"b":-0.55,"c":-1.0,"R":-4.95,"r":-4.65,"s":-5.25},
{"x":310,"B":-0.75,"b":-0.5,"c":-1.0,"R":-4.95,"r":-4.65,"s":-5.25},
{"x":315,"B":-0.7,"b":-0.45,"c":-1.0,"R":-4.9,"r":-4.6,"s":-5.2},
{"x":320,"B":-0.65,"b":-0.3,"c":-1.0,"R":-4.8,"r":-4.5,"s":-5.1},
{"x":325,"B":-0.3,"b":0.2,"c":-0.7,"R":-4.75,"r":-4.45,"s":-5.05},
{"x":330,"B":0.2,"b":0.9,"c":-0.2,"R":-4.65,"r":-4.3,"s":-4.95},
{"x":335,"B":0.5,"b":1.4,"c":0.1,"R":-4.7,"r":-4.2,"s":-5.0},
{"x":340,"B":0.3,"b":0.8,"c":-0.2,"R":-4.5,"r":-3.9,"s":-4.8},
{"x":345,"B":-0.65,"b":-0.3,"c":-1.1,"R":-4.7,"r":-4.4,"s":-5.0},
{"x":350,"B":-0.65,"b":-0.3,"c":-1.1,"R":-4.6,"r":-4.3,"s":-4.9},
{"x":355,"B":-0.55,"b":-0.2,"c":-0.9,"R":-4.5,"r":-4.2,"s":-4.8}
],
"f":[
{"x":0,"B":-0.9,"b":-0.2,"c":-1.6,"R":-4.4,"r":-4.1,"s":-4.7},
{"x":5,"B":-0.55,"b":0.1,"c":-1.3,"R":-4.4,"r":-4.1,"s":-4.7},
{"x":10,"B":-0.5,"b":0.1,"c":-1.3,"R":-4.35,"r":-4.05,"s":-4.65},
{"x":15,"B":-0.48,"b":0.1,"c":-1.2,"R":-4.25,"r":-3.95,"s":-4.55},
{"x":20,"B":-0.45,"b":0.1,"c":-1.2,"R":-4.2,"r":-3.9,"s":-4.5},
{"x":25,"B":-0.45,"b":0.2,"c":-1.1,"R":-4.15,"r":-3.85,"s":-4.45},
{"x":30,"B":-0.45,"b":0.2,"c":-1.1,"R":-4.15,"r":-3.85,"s":-4.45},
{"x":35,"B":-0.42,"b":0.2,"c":-1.1,"R":-4.2,"r":-3.9,"s":-4.5},
{"x":40,"B":-0.4,"b":0.3,"c":-1.1,"R":-4.2,"r":-3.9,"s":-4.5},
{"x":45,"B":-0.4,"b":0.3,"c":-1.1,"R":-4.25,"r":-3.95,"s":-4.55},
{"x":50,"B":-0.38,"b":0.2,"c":-1.1,"R":-4.25,"r":-3.95,"s":-4.55},
{"x":55,"B":-0.37,"b":0.2,"c":-1.0,"R":-4.3,"r":-4.0,"s":-4.6},
{"x":60,"B":-0.35,"b":0.2,"c":-1.0,"R":-4.3,"r":-4.0,"s":-4.6},
{"x":65,"B":-0.35,"b":0.2,"c":-1.0,"R":-4.25,"r":-3.95,"s":-4.55},
{"x":70,"B":-0.35,"b":0.2,"c":-1.0,"R":-4.35,"r":-4.05,"s":-4.65},
{"x":75,"B":-0.4,"b":0.2,"c":-1.1,"R":-4.4,"r":-4.1,"s":-4.7},
{"x":80,"B":-0.45,"b":0.1,"c":-1.2,"R":-4.4,"r":-4.1,"s":-4.7},
{"x":85,"B":-0.55,"b":0.1,"c":-1.3,"R":-4.4,"r":-4.1,"s":-4.7},
{"x":90,"B":-0.65,"b":-0.1,"c":-1.5,"R":-4.4,"r":-4.1,"s":-4.7},
{"x":95,"B":-0.45,"b":0.2,"c":-1.3,"R":-4.1,"r":-3.5,"s":-4.4},
{"x":100,"B":-0.4,"b":0.3,"c":-1.3,"R":-4.2,"r":-3.8,"s":-4.5},
{"x":105,"B":-0.3,"b":0.4,"c":-1.2,"R":-4.3,"r":-4.0,"s":-4.6},
{"x":110,"B":-0.35,"b":0.3,"c":-1.2,"R":-4.4,"r":-4.1,"s":-4.7},
{"x":115,"B":-0.45,"b":0.2,"c":-1.1,"R":-4.45,"r":-4.15,"s":-4.75},
{"x":120,"B":-0.4,"b":0.1,"c":-1.0,"R":-4.45,"r":-4.15,"s":-4.75},
{"x":125,"B":-0.2,"b":0.3,"c":-0.7,"R":-4.3,"r":-3.95,"s":-4.6},
{"x":130,"B":0.2,"b":0.7,"c":-0.3,"R":-4.1,"r":-3.7,"s":-4.4},
{"x":135,"B":1.0,"b":1.6,"c":0.5,"R":-3.9,"r":-3.4,"s":-4.2},
{"x":140,"B":1.55,"b":2.2,"c":1.0,"R":-3.35,"r":-2.4,"s":-3.7},
{"x":142,"B":1.83,"b":2.5,"c":1.2,"R":-3.2,"r":-1.7,"s":-3.6},
{"x":145,"B":0.9,"b":1.5,"c":0.2,"R":-3.6,"r":-2.6,"s":-3.95},
{"x":150,"B":-0.35,"b":0.2,"c":-0.9,"R":-4.15,"r":-3.8,"s":-4.45},
{"x":155,"B":-0.45,"b":0.1,"c":-1.0,"R":-4.2,"r":-3.85,"s":-4.5},
{"x":160,"B":-0.55,"b":0.1,"c":-1.1,"R":-4.25,"r":-3.9,"s":-4.55},
{"x":165,"B":-0.6,"b":0.0,"c":-1.2,"R":-4.3,"r":-3.95,"s":-4.6},
{"x":170,"B":-0.65,"b":0.0,"c":-1.2,"R":-4.35,"r":-4.0,"s":-4.65},
{"x":175,"B":-0.65,"b":-0.1,"c":-1.3,"R":-4.4,"r":-4.05,"s":-4.7},
{"x":180,"B":-0.6,"b":-0.1,"c":-1.2,"R":-4.5,"r":-4.15,"s":-4.8},
{"x":185,"B":-0.65,"b":-0.1,"c":-1.1,"R":-4.55,"r":-4.2,"s":-4.85},
{"x":190,"B":-0.7,"b":-0.2,"c":-1.1,"R":-4.65,"r":-4.3,"s":-4.95},
{"x":195,"B":-0.75,"b":-0.3,"c":-1.1,"R":-4.7,"r":-4.4,"s":-5.0},
{"x":200,"B":-0.8,"b":-0.5,"c":-1.1,"R":-4.8,"r":-4.5,"s":-5.1},
{"x":205,"B":-1.0,"b":-0.75,"c":-1.2,"R":-4.85,"r":-4.55,"s":-5.15},
{"x":210,"B":-0.85,"b":-0.65,"c":-1.05,"R":-4.95,"r":-4.65,"s":-5.25},
{"x":215,"B":-0.88,"b":-0.65,"c":-1.1,"R":-5.0,"r":-4.7,"s":-5.3},
{"x":220,"B":-0.9,"b":-0.7,"c":-1.1,"R":-5.1,"r":-4.8,"s":-5.4},
{"x":225,"B":-0.95,"b":-0.75,"c":-1.15,"R":-5.15,"r":-4.85,"s":-5.45},
{"x":230,"B":-1.0,"b":-0.8,"c":-1.2,"R":-5.2,"r":-4.9,"s":-5.5},
{"x":235,"B":-1.02,"b":-0.8,"c":-1.25,"R":-5.25,"r":-4.95,"s":-5.55},
{"x":240,"B":-1.05,"b":-0.85,"c":-1.25,"R":-5.3,"r":-5.0,"s":-5.6},
{"x":245,"B":-1.05,"b":-0.85,"c":-1.25,"R":-5.3,"r":-5.0,"s":-5.6},
{"x":250,"B":-1.05,"b":-0.85,"c":-1.25,"R":-5.25,"r":-4.95,"s":-5.55},
{"x":255,"B":-1.03,"b":-0.8,"c":-1.25,"R":-5.2,"r":-4.9,"s":-5.5},
{"x":260,"B":-1.0,"b":-0.8,"c":-1.2,"R":-5.2,"r":-4.9,"s":-5.5},
{"x":265,"B":-1.0,"b":-0.8,"c":-1.2,"R":-5.15,"r":-4.85,"s":-5.45},
{"x":270,"B":-1.45,"b":-1.1,"c":-1.7,"R":-5.15,"r":-4.85,"s":-5.45},
{"x":275,"B":-1.0,"b":-0.8,"c":-1.2,"R":-5.15,"r":-4.85,"s":-5.45},
{"x":280,"B":-0.9,"b":-0.7,"c":-1.1,"R":-5.1,"r":-4.8,"s":-5.4},
{"x":285,"B":-0.88,"b":-0.65,"c":-1.1,"R":-5.08,"r":-4.8,"s":-5.35},
{"x":290,"B":-0.85,"b":-0.65,"c":-1.05,"R":-5.05,"r":-4.75,"s":-5.35},
{"x":295,"B":-0.8,"b":-0.6,"c":-1.0,"R":-5.05,"r":-4.75,"s":-5.35},
{"x":300,"B":-0.75,"b":-0.55,"c":-0.95,"R":-5.05,"r":-4.75,"s":-5.35},
{"x":305,"B":-0.75,"b":-0.55,"c":-0.95,"R":-5.05,"r":-4.75,"s":-5.35},
{"x":310,"B":-0.75,"b":-0.55,"c":-0.95,"R":-5.05,"r":-4.75,"s":-5.35},
{"x":315,"B":-0.72,"b":-0.5,"c":-0.95,"R":-5.1,"r":-4.8,"s":-5.4},
{"x":320,"B":-0.7,"b":-0.45,"c":-0.95,"R":-5.1,"r":-4.8,"s":-5.4},
{"x":325,"B":-0.55,"b":-0.2,"c":-0.85,"R":-4.95,"r":-4.65,"s":-5.25},
{"x":330,"B":-0.2,"b":0.5,"c":-0.5,"R":-4.6,"r":-4.3,"s":-4.9},
{"x":335,"B":0.05,"b":0.9,"c":-0.3,"R":-4.5,"r":-4.1,"s":-4.8},
{"x":340,"B":-0.2,"b":0.5,"c":-0.6,"R":-4.5,"r":-4.0,"s":-4.8},
{"x":345,"B":-0.55,"b":-0.1,"c":-1.0,"R":-4.7,"r":-4.4,"s":-5.0},
{"x":350,"B":-0.75,"b":-0.4,"c":-1.3,"R":-4.7,"r":-4.4,"s":-5.0},
{"x":355,"B":-0.75,"b":-0.4,"c":-1.1,"R":-4.65,"r":-4.35,"s":-4.95}
],
"g":[
{"x":0,"B":-0.8,"b":-0.2,"c":-1.4,"R":-4.55,"r":-4.25,"s":-4.85},
{"x":5,"B":-0.7,"b":0.0,"c":-1.3,"R":-4.5,"r":-4.2,"s":-4.8},
{"x":10,"B":-0.6,"b":0.1,"c":-1.3,"R":-4.4,"r":-4.1,"s":-4.7},
{"x":15,"B":-0.55,"b":0.2,"c":-1.2,"R":-4.3,"r":-4.0,"s":-4.6},
{"x":20,"B":-0.5,"b":0.3,"c":-1.2,"R":-4.2,"r":-3.9,"s":-4.5},
{"x":25,"B":-0.47,"b":0.3,"c":-1.1,"R":-4.15,"r":-3.85,"s":-4.45},
{"x":30,"B":-0.45,"b":0.3,"c":-1.1,"R":-4.15,"r":-3.85,"s":-4.45},
{"x":35,"B":-0.42,"b":0.3,"c":-1.1,"R":-4.15,"r":-3.85,"s":-4.45},
{"x":40,"B":-0.4,"b":0.3,"c":-1.1,"R":-4.15,"r":-3.85,"s":-4.45},
{"x":45,"B":-0.4,"b":0.3,"c":-1.1,"R":-4.18,"r":-3.9,"s":-4.5},
{"x":50,"B":-0.4,"b":0.2,"c":-1.1,"R":-4.2,"r":-3.9,"s":-4.5},
{"x":55,"B":-0.4,"b":0.2,"c":-1.0,"R":-4.25,"r":-3.95,"s":-4.55},
{"x":60,"B":-0.4,"b":0.2,"c":-1.0,"R":-4.3,"r":-4.0,"s":-4.6},
{"x":65,"B":-0.4,"b":0.2,"c":-1.0,"R":-4.3,"r":-4.0,"s":-4.6},
{"x":70,"B":-0.4,"b":0.2,"c":-1.0,"R":-4.3,"r":-4.0,"s":-4.6},
{"x":75,"B":-0.42,"b":0.2,"c":-1.0,"R":-4.33,"r":-4.0,"s":-4.65},
{"x":80,"B":-0.45,"b":0.1,"c":-1.0,"R":-4.35,"r":-4.05,"s":-4.65},
{"x":85,"B":-0.5,"b":0.1,"c":-1.1,"R":-4.38,"r":-4.05,"s":-4.7},
{"x":90,"B":-0.55,"b":0.0,"c":-1.2,"R":-4.4,"r":-4.1,"s":-4.7},
{"x":95,"B":-0.2,"b":0.3,"c":-1.0,"R":-4.3,"r":-3.9,"s":-4.6},
{"x":100,"B":-0.7,"b":-0.1,"c":-1.3,"R":-4.2,"r":-3.6,"s":-4.5},
{"x":105,"B":-0.5,"b":0.0,"c":-1.1,"R":-4.2,"r":-3.7,"s":-4.5},
{"x":110,"B":-0.5,"b":0.0,"c":-1.0,"R":-4.35,"r":-4.0,"s":-4.65},
{"x":115,"B":-0.45,"b":0.0,"c":-0.9,"R":-4.45,"r":-4.15,"s":-4.75},
{"x":120,"B":-0.3,"b":0.1,"c":-0.7,"R":-4.4,"r":-4.1,"s":-4.7},
{"x":125,"B":0.1,"b":0.5,"c":-0.3,"R":-4.25,"r":-3.9,"s":-4.55},
{"x":130,"B":0.6,"b":1.1,"c":0.1,"R":-4.1,"r":-3.7,"s":-4.4},
{"x":135,"B":1.2,"b":1.7,"c":0.7,"R":-3.85,"r":-3.3,"s":-4.15},
{"x":140,"B":1.7,"b":2.3,"c":1.1,"R":-3.55,"r":-2.0,"s":-3.85},
{"x":145,"B":0.3,"b":1.0,"c":-0.3,"R":-3.6,"r":-2.2,"s":-3.95},
{"x":150,"B":-0.3,"b":0.3,"c":-0.9,"R":-3.9,"r":-3.3,"s":-4.2},
{"x":155,"B":-0.45,"b":0.2,"c":-1.0,"R":-4.05,"r":-3.7,"s":-4.35},
{"x":160,"B":-0.55,"b":0.1,"c":-1.0,"R":-4.1,"r":-3.75,"s":-4.4},
{"x":165,"B":-0.55,"b":0.1,"c":-1.0,"R":-4.12,"r":-3.8,"s":-4.45},
{"x":170,"B":-0.55,"b":0.2,"c":-1.0,"R":-4.15,"r":-3.8,"s":-4.45},
{"x":175,"B":-0.6,"b":0.2,"c":-1.0,"R":-4.15,"r":-3.8,"s":-4.45},
{"x":180,"B":-0.65,"b":0.0,"c":-1.0,"R":-4.15,"r":-3.8,"s":-4.45},
{"x":185,"B":-0.6,"b":0.1,"c":-0.9,"R":-4.25,"r":-3.9,"s":-4.55},
{"x":190,"B":-0.7,"b":-0.2,"c":-1.0,"R":-4.4,"r":-4.05,"s":-4.7},
{"x":195,"B":-0.72,"b":-0.4,"c":-1.0,"R":-4.5,"r":-4.15,"s":-4.8},
{"x":200,"B":-0.75,"b":-0.55,"c":-0.95,"R":-4.6,"r":-4.25,"s":-4.9},
{"x":205,"B":-0.8,"b":-0.6,"c":-1.0,"R":-4.75,"r":-4.4,"s":-5.05},
{"x":210,"B":-0.85,"b":-0.65,"c":-1.05,"R":-4.9,"r":-4.55,"s":-5.2},
{"x":215,"B":-0.95,"b":-0.75,"c":-1.15,"R":-5.3,"r":-4.95,"s":-5.65},
{"x":220,"B":-1.0,"b":-0.8,"c":-1.2,"R":-5.35,"r":-5.0,"s":-5.7},
{"x":225,"B":-1.0,"b":-0.8,"c":-1.2,"R":-5.3,"r":-5.0,"s":-5.65},
{"x":230,"B":-1.0,"b":-0.8,"c":-1.2,"R":-5.3,"r":-5.0,"s":-5.6},
{"x":235,"B":-1.0,"b":-0.8,"c":-1.2,"R":-5.28,"r":-5.0,"s":-5.6},
{"x":240,"B":-1.0,"b":-0.8,"c":-1.2,"R":-5.25,"r":-4.95,"s":-5.55},
{"x":245,"B":-1.0,"b":-0.8,"c":-1.2,"R":-5.22,"r":-4.9,"s":-5.55},
{"x":250,"B":-1.0,"b":-0.8,"c":-1.2,"R":-5.2,"r":-4.9,"s":-5.5},
{"x":255,"B":-1.0,"b":-0.8,"c":-1.2,"R":-5.15,"r":-4.85,"s":-5.45},
{"x":260,"B":-1.0,"b":-0.8,"c":-1.2,"R":-5.1,"r":-4.8,"s":-5.4},
{"x":265,"B":-0.95,"b":-0.75,"c":-1.15,"R":-5.1,"r":-4.8,"s":-5.4},
{"x":270,"B":-1.45,"b":-1.1,"c":-1.7,"R":-5.1,"r":-4.8,"s":-5.4},
{"x":275,"B":-1.0,"b":-0.75,"c":-1.25,"R":-5.08,"r":-4.8,"s":-5.4},
{"x":280,"B":-0.95,"b":-0.7,"c":-1.2,"R":-5.05,"r":-4.75,"s":-5.35},
{"x":285,"B":-0.92,"b":-0.7,"c":-1.15,"R":-5.0,"r":-4.7,"s":-5.3},
{"x":290,"B":-0.9,"b":-0.65,"c":-1.15,"R":-4.95,"r":-4.65,"s":-5.25},
{"x":295,"B":-0.88,"b":-0.6,"c":-1.15,"R":-4.92,"r":-4.6,"s":-5.25},
{"x":300,"B":-0.85,"b":-0.55,"c":-1.1,"R":-4.9,"r":-4.6,"s":-5.2},
{"x":305,"B":-0.82,"b":-0.55,"c":-1.1,"R":-4.95,"r":-4.65,"s":-5.25},
{"x":310,"B":-0.8,"b":-0.5,"c":-1.1,"R":-5.1,"r":-4.8,"s":-5.4},
{"x":315,"B":-0.9,"b":-0.6,"c":-1.2,"R":-5.3,"r":-5.0,"s":-5.6},
{"x":320,"B":-0.85,"b":-0.5,"c":-1.2,"R":-5.5,"r":-5.2,"s":-5.8},
{"x":325,"B":-0.4,"b":0.1,"c":-0.8,"R":-5.2,"r":-4.9,"s":-5.5},
{"x":330,"B":0.3,"b":1.0,"c":-0.1,"R":-4.8,"r":-4.4,"s":-5.1},
{"x":335,"B":0.55,"b":1.5,"c":0.1,"R":-4.5,"r":-4.0,"s":-4.8},
{"x":340,"B":0.1,"b":0.8,"c":-0.4,"R":-4.35,"r":-3.7,"s":-4.65},
{"x":345,"B":-0.6,"b":-0.2,"c":-1.1,"R":-4.55,"r":-4.25,"s":-4.85},
{"x":350,"B":-0.85,"b":-0.5,"c":-1.2,"R":-4.55,"r":-4.25,"s":-4.85},
{"x":355,"B":-0.6,"b":-0.3,"c":-1.0,"R":-4.55,"r":-4.25,"s":-4.85}
],
"h":[
{"x":0,"B":-0.7,"b":-0.1,"c":-1.3,"R":-4.55,"r":-4.25,"s":-4.85},
{"x":5,"B":-0.5,"b":0.1,"c":-1.1,"R":-4.45,"r":-4.15,"s":-4.75},
{"x":10,"B":-0.45,"b":0.1,"c":-1.0,"R":-4.35,"r":-4.05,"s":-4.65},
{"x":15,"B":-0.45,"b":0.1,"c":-1.0,"R":-4.28,"r":-4.0,"s":-4.6},
{"x":20,"B":-0.45,"b":0.1,"c":-1.0,"R":-4.2,"r":-3.9,"s":-4.5},
{"x":25,"B":-0.43,"b":0.2,"c":-1.0,"R":-4.17,"r":-3.85,"s":-4.5},
{"x":30,"B":-0.42,"b":0.2,"c":-1.0,"R":-4.15,"r":-3.85,"s":-4.45},
{"x":35,"B":-0.41,"b":0.2,"c":-1.0,"R":-4.17,"r":-3.85,"s":-4.5},
{"x":40,"B":-0.4,"b":0.2,"c":-1.0,"R":-4.2,"r":-3.9,"s":-4.5},
{"x":45,"B":-0.4,"b":0.3,"c":-1.1,"R":-4.22,"r":-3.9,"s":-4.55},
{"x":50,"B":-0.4,"b":0.3,"c":-1.6,"R":-4.25,"r":-3.95,"s":-4.55},
{"x":55,"B":-0.39,"b":0.3,"c":-1.1,"R":-4.28,"r":-4.0,"s":-4.6},
{"x":60,"B":-0.38,"b":0.3,"c":-1.0,"R":-4.3,"r":-4.0,"s":-4.6},
{"x":65,"B":-0.39,"b":0.2,"c":-1.0,"R":-4.32,"r":-4.0,"s":-4.65},
{"x":70,"B":-0.4,"b":0.2,"c":-1.0,"R":-4.35,"r":-4.05,"s":-4.65},
{"x":75,"B":-0.45,"b":0.1,"c":-1.0,"R":-4.38,"r":-4.05,"s":-4.7},
{"x":80,"B":-0.5,"b":0.0,"c":-1.0,"R":-4.4,"r":-4.1,"s":-4.7},
{"x":85,"B":-0.6,"b":0.0,"c":-1.1,"R":-4.3,"r":-4.0,"s":-4.6},
{"x":90,"B":-0.55,"b":0.0,"c":-1.1,"R":-4.35,"r":-4.0,"s":-4.65},
{"x":95,"B":-0.4,"b":0.3,"c":-1.2,"R":-4.1,"r":-3.6,"s":-4.4},
{"x":100,"B":-0.5,"b":0.2,"c":-1.3,"R":-4.35,"r":-4.0,"s":-4.65},
{"x":105,"B":-0.52,"b":0.3,"c":-1.4,"R":-4.45,"r":-4.15,"s":-4.75},
{"x":110,"B":-0.55,"b":0.5,"c":-1.5,"R":-4.5,"r":-4.2,"s":-4.8},
{"x":115,"B":-0.6,"b":0.7,"c":-1.6,"R":-4.5,"r":-4.2,"s":-4.8},
{"x":120,"B":-0.55,"b":0.6,"c":-1.7,"R":-4.5,"r":-4.2,"s":-4.8},
{"x":125,"B":-0.5,"b":0.4,"c":-1.4,"R":-4.4,"r":-4.1,"s":-4.7},
{"x":130,"B":-0.4,"b":0.3,"c":-1.0,"R":-4.2,"r":-3.8,"s":-4.5},
{"x":135,"B":0.6,"b":1.2,"c":0.1,"R":-3.8,"r":-3.2,"s":-4.1},
{"x":138,"B":1.55,"b":2.3,"c":1.0,"R":-3.65,"r":-2.9,"s":-4.0},
{"x":140,"B":1.2,"b":1.9,"c":0.6,"R":-3.6,"r":-2.8,"s":-3.95},
{"x":145,"B":-0.1,"b":0.6,"c":-0.6,"R":-3.85,"r":-3.3,"s":-4.15},
{"x":150,"B":-0.1,"b":0.5,"c":-0.7,"R":-3.95,"r":-3.5,"s":-4.25},
{"x":155,"B":-0.2,"b":0.4,"c":-0.9,"R":-4.0,"r":-3.6,"s":-4.3},
{"x":160,"B":-0.35,"b":0.3,"c":-1.1,"R":-4.05,"r":-3.7,"s":-4.35},
{"x":165,"B":-0.45,"b":0.3,"c":-1.2,"R":-4.12,"r":-3.8,"s":-4.45},
{"x":170,"B":-0.55,"b":0.3,"c":-1.3,"R":-4.2,"r":-3.85,"s":-4.5},
{"x":175,"B":-0.65,"b":0.2,"c":-1.5,"R":-4.25,"r":-3.9,"s":-4.55},
{"x":180,"B":-0.6,"b":0.2,"c":-1.6,"R":-4.3,"r":-3.95,"s":-4.6},
{"x":185,"B":-0.5,"b":0.1,"c":-1.2,"R":-4.42,"r":-4.1,"s":-4.75},
{"x":190,"B":-0.65,"b":-0.2,"c":-1.1,"R":-4.55,"r":-4.2,"s":-4.85},
{"x":195,"B":-0.72,"b":-0.4,"c":-1.05,"R":-4.62,"r":-4.3,"s":-4.95},
{"x":200,"B":-0.8,"b":-0.55,"c":-1.05,"R":-4.7,"r":-4.4,"s":-5.0},
{"x":205,"B":-0.9,"b":-0.65,"c":-1.15,"R":-4.78,"r":-4.45,"s":-5.1},
{"x":210,"B":-1.0,"b":-0.75,"c":-1.25,"R":-4.85,"r":-4.55,"s":-5.15},
{"x":215,"B":-1.05,"b":-0.8,"c":-1.3,"R":-4.95,"r":-4.65,"s":-5.25},
{"x":220,"B":-1.1,"b":-0.85,"c":-1.35,"R":-5.05,"r":-4.75,"s":-5.35},
{"x":225,"B":-1.1,"b":-0.85,"c":-1.35,"R":-5.3,"r":-5.0,"s":-5.6},
{"x":230,"B":-1.1,"b":-0.85,"c":-1.35,"R":-5.5,"r":-5.2,"s":-5.8},
{"x":235,"B":-1.08,"b":-0.85,"c":-1.3,"R":-5.45,"r":-5.15,"s":-5.75},
{"x":240,"B":-1.05,"b":-0.85,"c":-1.25,"R":-5.35,"r":-5.05,"s":-5.65},
{"x":245,"B":-1.02,"b":-0.8,"c":-1.25,"R":-5.28,"r":-5.0,"s":-5.6},
{"x":250,"B":-1.0,"b":-0.8,"c":-1.2,"R":-5.2,"r":-4.9,"s":-5.5},
{"x":255,"B":-0.98,"b":-0.75,"c":-1.2,"R":-5.15,"r":-4.85,"s":-5.45},
{"x":260,"B":-0.95,"b":-0.75,"c":-1.15,"R":-5.1,"r":-4.8,"s":-5.4},
{"x":265,"B":-0.95,"b":-0.75,"c":-1.15,"R":-5.05,"r":-4.75,"s":-5.35},
{"x":270,"B":-1.45,"b":-1.1,"c":-1.8,"R":-5.0,"r":-4.7,"s":-5.3},
{"x":275,"B":-0.85,"b":-0.6,"c":-1.1,"R":-4.98,"r":-4.7,"s":-5.3},
{"x":280,"B":-0.8,"b":-0.55,"c":-1.05,"R":-4.95,"r":-4.65,"s":-5.25},
{"x":285,"B":-0.78,"b":-0.5,"c":-1.05,"R":-4.92,"r":-4.6,"s":-5.25},
{"x":290,"B":-0.75,"b":-0.45,"c":-1.05,"R":-4.9,"r":-4.6,"s":-5.2},
{"x":295,"B":-0.72,"b":-0.4,"c":-1.0,"R":-4.88,"r":-4.55,"s":-5.2},
{"x":300,"B":-0.7,"b":-0.4,"c":-1.0,"R":-4.85,"r":-4.55,"s":-5.15},
{"x":305,"B":-0.62,"b":-0.35,"c":-0.9,"R":-4.85,"r":-4.55,"s":-5.15},
{"x":310,"B":-0.55,"b":-0.25,"c":-0.85,"R":-4.9,"r":-4.6,"s":-5.2},
{"x":315,"B":-0.55,"b":-0.2,"c":-0.85,"R":-5.1,"r":-4.8,"s":-5.4},
{"x":320,"B":-0.45,"b":-0.1,"c":-0.8,"R":-5.25,"r":-4.95,"s":-5.55},
{"x":325,"B":-0.1,"b":0.5,"c":-0.5,"R":-5.0,"r":-4.7,"s":-5.3},
{"x":330,"B":0.55,"b":1.4,"c":0.1,"R":-4.7,"r":-4.3,"s":-5.0},
{"x":335,"B":0.45,"b":1.2,"c":-0.1,"R":-4.55,"r":-3.3,"s":-4.85},
{"x":340,"B":-0.4,"b":0.2,"c":-0.9,"R":-4.65,"r":-4.3,"s":-4.95},
{"x":345,"B":-0.7,"b":-0.3,"c":-1.2,"R":-4.7,"r":-4.4,"s":-5.0},
{"x":350,"B":-0.6,"b":-0.2,"c":-1.1,"R":-4.65,"r":-4.35,"s":-4.95},
{"x":355,"B":-0.55,"b":-0.2,"c":-1.0,"R":-4.6,"r":-4.3,"s":-4.9}
]
},
"vconcat":[
{"hconcat":[
{"title":"(a) MY 25","width":276,"height":189,"data":{"name":"a"},"transform":[{"fold":["B","b","c","R","r","s"],"as":["k","v"]}],
"layer":[
{"encoding":{"x":{"field":"x","type":"quantitative","scale":{"domain":[0,360],"nice":false},"axis":{"values":[0,15,30,45,60,75,90,105,120,135,150,165,180,195,210,225,240,255,270,285,300,315,330,345],"tickCount":100,"labelExpr":"datum.value%90==0?''+datum.value:''","labelOverlap":false},"title":"Solar Longitude (deg)"},"y":{"field":"v","type":"quantitative","scale":{"domain":[-6.5,3],"nice":false},"axis":{"values":[-6.4,-6,-5.6,-5.2,-4.8,-4.4,-4,-3.6,-3.2,-2.8,-2.4,-2,-1.6,-1.2,-0.8,-0.4,0,0.4,0.8,1.2,1.6,2,2.4,2.8],"tickCount":100,"labelExpr":"datum.value%2==0?''+datum.value:''","labelOverlap":false},"title":"Growth Rate (sol⁻¹)"}},
"layer":[
{"transform":[{"filter":"datum.k=='b'||datum.k=='c'"}],"mark":{"type":"circle","size":30,"opacity":0.7},"encoding":{"fill":{"datum":"BV (every 0.25 sol)","scale":{"domain":["BV (every 0.25 sol)","RP (every 0.25 sol)"],"range":["#aac0da","#ffc891"]},"legend":{"title":null,"orient":"bottom","direction":"horizontal","labelFont":"Liberation Sans","labelFontSize":18,"labelColor":"#000000","labelOffset":12,"labelLimit":400,"columnPadding":22,"padding":3,"offset":8,"strokeColor":"#a6a6a6","fillColor":"#ffffff","symbolType":"circle","symbolSize":50,"symbolOpacity":1,"symbolStrokeWidth":19.5,"symbolStrokeColor":"transparent"}}}},
{"transform":[{"filter":"datum.k=='r'||datum.k=='s'"}],"mark":{"type":"circle","size":30,"opacity":0.7},"encoding":{"fill":{"datum":"RP (every 0.25 sol)"}}}
]},
{"transform":[{"filter":"datum.x==0&&datum.k=='B'"}],"mark":{"type":"rule","color":"#ff0000","strokeWidth":1},"encoding":{"y":{"datum":0,"type":"quantitative","title":"Growth Rate (sol⁻¹)"}}},
{"transform":[{"filter":"datum.x%90==0&&datum.k=='B'"}],"mark":{"type":"rule","color":"#000000","strokeWidth":2.5,"strokeDash":[8,5]},"encoding":{"x":{"field":"x","type":"quantitative","title":"Solar Longitude (deg)"}}},
{"encoding":{"x":{"field":"x","type":"quantitative","title":"Solar Longitude (deg)"},"y":{"field":"v","type":"quantitative","title":"Growth Rate (sol⁻¹)"}},
"layer":[
{"transform":[{"filter":"datum.k=='B'"}],"mark":{"type":"line","strokeWidth":2},"encoding":{"stroke":{"datum":"BV (15-sol smoother)","scale":{"domain":["BV (15-sol smoother)","RP (15-sol smoother)"],"range":["#1f77b4","#ff7f0e"]},"legend":{"title":null,"orient":"bottom","direction":"horizontal","labelFont":"Liberation Sans","labelFontSize":18,"labelColor":"#000000","labelOffset":4,"labelLimit":400,"columnPadding":16,"padding":3,"offset":8,"strokeColor":"#a6a6a6","fillColor":"#ffffff","symbolType":"stroke","symbolSize":576,"symbolStrokeWidth":2.5,"symbolOpacity":1}}}},
{"transform":[{"filter":"datum.k=='R'"}],"mark":{"type":"line","strokeWidth":2},"encoding":{"stroke":{"datum":"RP (15-sol smoother)"}}}
]}
]},
{"title":"(b) MY 26","width":276,"height":189,"data":{"name":"b"},"transform":[{"fold":["B","b","c","R","r","s"],"as":["k","v"]}],
"layer":[
{"encoding":{"x":{"field":"x","type":"quantitative","scale":{"domain":[0,360],"nice":false},"axis":{"values":[0,15,30,45,60,75,90,105,120,135,150,165,180,195,210,225,240,255,270,285,300,315,330,345],"tickCount":100,"labelExpr":"datum.value%90==0?''+datum.value:''","labelOverlap":false},"title":"Solar Longitude (deg)"},"y":{"field":"v","type":"quantitative","scale":{"domain":[-6.5,3],"nice":false},"axis":{"values":[-6.4,-6,-5.6,-5.2,-4.8,-4.4,-4,-3.6,-3.2,-2.8,-2.4,-2,-1.6,-1.2,-0.8,-0.4,0,0.4,0.8,1.2,1.6,2,2.4,2.8],"tickCount":100,"labelExpr":"datum.value%2==0?''+datum.value:''","labelOverlap":false},"title":null}},
"layer":[
{"transform":[{"filter":"datum.k=='b'||datum.k=='c'"}],"mark":{"type":"circle","size":30,"opacity":0.7},"encoding":{"fill":{"datum":"BV (every 0.25 sol)"}}},
{"transform":[{"filter":"datum.k=='r'||datum.k=='s'"}],"mark":{"type":"circle","size":30,"opacity":0.7},"encoding":{"fill":{"datum":"RP (every 0.25 sol)"}}}
]},
{"transform":[{"filter":"datum.x==0&&datum.k=='B'"}],"mark":{"type":"rule","color":"#ff0000","strokeWidth":1},"encoding":{"y":{"datum":0,"type":"quantitative","title":null}}},
{"transform":[{"filter":"datum.x%90==0&&datum.k=='B'"}],"mark":{"type":"rule","color":"#000000","strokeWidth":2.5,"strokeDash":[8,5]},"encoding":{"x":{"field":"x","type":"quantitative","title":"Solar Longitude (deg)"}}},
{"encoding":{"x":{"field":"x","type":"quantitative","title":"Solar Longitude (deg)"},"y":{"field":"v","type":"quantitative","title":null}},
"layer":[
{"transform":[{"filter":"datum.k=='B'"}],"mark":{"type":"line","strokeWidth":2},"encoding":{"stroke":{"datum":"BV (15-sol smoother)"}}},
{"transform":[{"filter":"datum.k=='R'"}],"mark":{"type":"line","strokeWidth":2},"encoding":{"stroke":{"datum":"RP (15-sol smoother)"}}}
]}
]},
{"title":"(c) MY 27","width":276,"height":189,"data":{"name":"c"},"transform":[{"fold":["B","b","c","R","r","s"],"as":["k","v"]}],
"layer":[
{"encoding":{"x":{"field":"x","type":"quantitative","scale":{"domain":[0,360],"nice":false},"axis":{"values":[0,15,30,45,60,75,90,105,120,135,150,165,180,195,210,225,240,255,270,285,300,315,330,345],"tickCount":100,"labelExpr":"datum.value%90==0?''+datum.value:''","labelOverlap":false},"title":"Solar Longitude (deg)"},"y":{"field":"v","type":"quantitative","scale":{"domain":[-6.5,3],"nice":false},"axis":{"values":[-6.4,-6,-5.6,-5.2,-4.8,-4.4,-4,-3.6,-3.2,-2.8,-2.4,-2,-1.6,-1.2,-0.8,-0.4,0,0.4,0.8,1.2,1.6,2,2.4,2.8],"tickCount":100,"labelExpr":"datum.value%2==0?''+datum.value:''","labelOverlap":false},"title":null}},
"layer":[
{"transform":[{"filter":"datum.k=='b'||datum.k=='c'"}],"mark":{"type":"circle","size":30,"opacity":0.7},"encoding":{"fill":{"datum":"BV (every 0.25 sol)"}}},
{"transform":[{"filter":"datum.k=='r'||datum.k=='s'"}],"mark":{"type":"circle","size":30,"opacity":0.7},"encoding":{"fill":{"datum":"RP (every 0.25 sol)"}}}
]},
{"transform":[{"filter":"datum.x==0&&datum.k=='B'"}],"mark":{"type":"rule","color":"#ff0000","strokeWidth":1},"encoding":{"y":{"datum":0,"type":"quantitative","title":null}}},
{"transform":[{"filter":"datum.x%90==0&&datum.k=='B'"}],"mark":{"type":"rule","color":"#000000","strokeWidth":2.5,"strokeDash":[8,5]},"encoding":{"x":{"field":"x","type":"quantitative","title":"Solar Longitude (deg)"}}},
{"encoding":{"x":{"field":"x","type":"quantitative","title":"Solar Longitude (deg)"},"y":{"field":"v","type":"quantitative","title":null}},
"layer":[
{"transform":[{"filter":"datum.k=='B'"}],"mark":{"type":"line","strokeWidth":2},"encoding":{"stroke":{"datum":"BV (15-sol smoother)"}}},
{"transform":[{"filter":"datum.k=='R'"}],"mark":{"type":"line","strokeWidth":2},"encoding":{"stroke":{"datum":"RP (15-sol smoother)"}}}
]}
]},
{"title":"(d) MY 28","width":276,"height":189,"data":{"name":"d"},"transform":[{"fold":["B","b","c","R","r","s"],"as":["k","v"]}],
"layer":[
{"encoding":{"x":{"field":"x","type":"quantitative","scale":{"domain":[0,360],"nice":false},"axis":{"values":[0,15,30,45,60,75,90,105,120,135,150,165,180,195,210,225,240,255,270,285,300,315,330,345],"tickCount":100,"labelExpr":"datum.value%90==0?''+datum.value:''","labelOverlap":false},"title":"Solar Longitude (deg)"},"y":{"field":"v","type":"quantitative","scale":{"domain":[-6.5,3],"nice":false},"axis":{"values":[-6.4,-6,-5.6,-5.2,-4.8,-4.4,-4,-3.6,-3.2,-2.8,-2.4,-2,-1.6,-1.2,-0.8,-0.4,0,0.4,0.8,1.2,1.6,2,2.4,2.8],"tickCount":100,"labelExpr":"datum.value%2==0?''+datum.value:''","labelOverlap":false},"title":null}},
"layer":[
{"transform":[{"filter":"datum.k=='b'||datum.k=='c'"}],"mark":{"type":"circle","size":30,"opacity":0.7},"encoding":{"fill":{"datum":"BV (every 0.25 sol)"}}},
{"transform":[{"filter":"datum.k=='r'||datum.k=='s'"}],"mark":{"type":"circle","size":30,"opacity":0.7},"encoding":{"fill":{"datum":"RP (every 0.25 sol)"}}}
]},
{"transform":[{"filter":"datum.x==0&&datum.k=='B'"}],"mark":{"type":"rule","color":"#ff0000","strokeWidth":1},"encoding":{"y":{"datum":0,"type":"quantitative","title":null}}},
{"transform":[{"filter":"datum.x%90==0&&datum.k=='B'"}],"mark":{"type":"rule","color":"#000000","strokeWidth":2.5,"strokeDash":[8,5]},"encoding":{"x":{"field":"x","type":"quantitative","title":"Solar Longitude (deg)"}}},
{"encoding":{"x":{"field":"x","type":"quantitative","title":"Solar Longitude (deg)"},"y":{"field":"v","type":"quantitative","title":null}},
"layer":[
{"transform":[{"filter":"datum.k=='B'"}],"mark":{"type":"line","strokeWidth":2},"encoding":{"stroke":{"datum":"BV (15-sol smoother)"}}},
{"transform":[{"filter":"datum.k=='R'"}],"mark":{"type":"line","strokeWidth":2},"encoding":{"stroke":{"datum":"RP (15-sol smoother)"}}}
]}
]}
],"spacing":43},
{"hconcat":[
{"title":"(e) MY 29","width":276,"height":189,"data":{"name":"e"},"transform":[{"fold":["B","b","c","R","r","s"],"as":["k","v"]}],
"layer":[
{"encoding":{"x":{"field":"x","type":"quantitative","scale":{"domain":[0,360],"nice":false},"axis":{"values":[0,15,30,45,60,75,90,105,120,135,150,165,180,195,210,225,240,255,270,285,300,315,330,345],"tickCount":100,"labelExpr":"datum.value%90==0?''+datum.value:''","labelOverlap":false},"title":"Solar Longitude (deg)"},"y":{"field":"v","type":"quantitative","scale":{"domain":[-6.5,3],"nice":false},"axis":{"values":[-6.4,-6,-5.6,-5.2,-4.8,-4.4,-4,-3.6,-3.2,-2.8,-2.4,-2,-1.6,-1.2,-0.8,-0.4,0,0.4,0.8,1.2,1.6,2,2.4,2.8],"tickCount":100,"labelExpr":"datum.value%2==0?''+datum.value:''","labelOverlap":false},"title":"Growth Rate (sol⁻¹)"}},
"layer":[
{"transform":[{"filter":"datum.k=='b'||datum.k=='c'"}],"mark":{"type":"circle","size":30,"opacity":0.7},"encoding":{"fill":{"datum":"BV (every 0.25 sol)"}}},
{"transform":[{"filter":"datum.k=='r'||datum.k=='s'"}],"mark":{"type":"circle","size":30,"opacity":0.7},"encoding":{"fill":{"datum":"RP (every 0.25 sol)"}}}
]},
{"transform":[{"filter":"datum.x==0&&datum.k=='B'"}],"mark":{"type":"rule","color":"#ff0000","strokeWidth":1},"encoding":{"y":{"datum":0,"type":"quantitative","title":"Growth Rate (sol⁻¹)"}}},
{"transform":[{"filter":"datum.x%90==0&&datum.k=='B'"}],"mark":{"type":"rule","color":"#000000","strokeWidth":2.5,"strokeDash":[8,5]},"encoding":{"x":{"field":"x","type":"quantitative","title":"Solar Longitude (deg)"}}},
{"encoding":{"x":{"field":"x","type":"quantitative","title":"Solar Longitude (deg)"},"y":{"field":"v","type":"quantitative","title":"Growth Rate (sol⁻¹)"}},
"layer":[
{"transform":[{"filter":"datum.k=='B'"}],"mark":{"type":"line","strokeWidth":2},"encoding":{"stroke":{"datum":"BV (15-sol smoother)"}}},
{"transform":[{"filter":"datum.k=='R'"}],"mark":{"type":"line","strokeWidth":2},"encoding":{"stroke":{"datum":"RP (15-sol smoother)"}}}
]}
]},
{"title":"(f) MY 30","width":276,"height":189,"data":{"name":"f"},"transform":[{"fold":["B","b","c","R","r","s"],"as":["k","v"]}],
"layer":[
{"encoding":{"x":{"field":"x","type":"quantitative","scale":{"domain":[0,360],"nice":false},"axis":{"values":[0,15,30,45,60,75,90,105,120,135,150,165,180,195,210,225,240,255,270,285,300,315,330,345],"tickCount":100,"labelExpr":"datum.value%90==0?''+datum.value:''","labelOverlap":false},"title":"Solar Longitude (deg)"},"y":{"field":"v","type":"quantitative","scale":{"domain":[-6.5,3],"nice":false},"axis":{"values":[-6.4,-6,-5.6,-5.2,-4.8,-4.4,-4,-3.6,-3.2,-2.8,-2.4,-2,-1.6,-1.2,-0.8,-0.4,0,0.4,0.8,1.2,1.6,2,2.4,2.8],"tickCount":100,"labelExpr":"datum.value%2==0?''+datum.value:''","labelOverlap":false},"title":null}},
"layer":[
{"transform":[{"filter":"datum.k=='b'||datum.k=='c'"}],"mark":{"type":"circle","size":30,"opacity":0.7},"encoding":{"fill":{"datum":"BV (every 0.25 sol)"}}},
{"transform":[{"filter":"datum.k=='r'||datum.k=='s'"}],"mark":{"type":"circle","size":30,"opacity":0.7},"encoding":{"fill":{"datum":"RP (every 0.25 sol)"}}}
]},
{"transform":[{"filter":"datum.x==0&&datum.k=='B'"}],"mark":{"type":"rule","color":"#ff0000","strokeWidth":1},"encoding":{"y":{"datum":0,"type":"quantitative","title":null}}},
{"transform":[{"filter":"datum.x%90==0&&datum.k=='B'"}],"mark":{"type":"rule","color":"#000000","strokeWidth":2.5,"strokeDash":[8,5]},"encoding":{"x":{"field":"x","type":"quantitative","title":"Solar Longitude (deg)"}}},
{"encoding":{"x":{"field":"x","type":"quantitative","title":"Solar Longitude (deg)"},"y":{"field":"v","type":"quantitative","title":null}},
"layer":[
{"transform":[{"filter":"datum.k=='B'"}],"mark":{"type":"line","strokeWidth":2},"encoding":{"stroke":{"datum":"BV (15-sol smoother)"}}},
{"transform":[{"filter":"datum.k=='R'"}],"mark":{"type":"line","strokeWidth":2},"encoding":{"stroke":{"datum":"RP (15-sol smoother)"}}}
]}
]},
{"title":"(g) MY 31","width":276,"height":189,"data":{"name":"g"},"transform":[{"fold":["B","b","c","R","r","s"],"as":["k","v"]}],
"layer":[
{"encoding":{"x":{"field":"x","type":"quantitative","scale":{"domain":[0,360],"nice":false},"axis":{"values":[0,15,30,45,60,75,90,105,120,135,150,165,180,195,210,225,240,255,270,285,300,315,330,345],"tickCount":100,"labelExpr":"datum.value%90==0?''+datum.value:''","labelOverlap":false},"title":"Solar Longitude (deg)"},"y":{"field":"v","type":"quantitative","scale":{"domain":[-6.5,3],"nice":false},"axis":{"values":[-6.4,-6,-5.6,-5.2,-4.8,-4.4,-4,-3.6,-3.2,-2.8,-2.4,-2,-1.6,-1.2,-0.8,-0.4,0,0.4,0.8,1.2,1.6,2,2.4,2.8],"tickCount":100,"labelExpr":"datum.value%2==0?''+datum.value:''","labelOverlap":false},"title":null}},
"layer":[
{"transform":[{"filter":"datum.k=='b'||datum.k=='c'"}],"mark":{"type":"circle","size":30,"opacity":0.7},"encoding":{"fill":{"datum":"BV (every 0.25 sol)"}}},
{"transform":[{"filter":"datum.k=='r'||datum.k=='s'"}],"mark":{"type":"circle","size":30,"opacity":0.7},"encoding":{"fill":{"datum":"RP (every 0.25 sol)"}}}
]},
{"transform":[{"filter":"datum.x==0&&datum.k=='B'"}],"mark":{"type":"rule","color":"#ff0000","strokeWidth":1},"encoding":{"y":{"datum":0,"type":"quantitative","title":null}}},
{"transform":[{"filter":"datum.x%90==0&&datum.k=='B'"}],"mark":{"type":"rule","color":"#000000","strokeWidth":2.5,"strokeDash":[8,5]},"encoding":{"x":{"field":"x","type":"quantitative","title":"Solar Longitude (deg)"}}},
{"encoding":{"x":{"field":"x","type":"quantitative","title":"Solar Longitude (deg)"},"y":{"field":"v","type":"quantitative","title":null}},
"layer":[
{"transform":[{"filter":"datum.k=='B'"}],"mark":{"type":"line","strokeWidth":2},"encoding":{"stroke":{"datum":"BV (15-sol smoother)"}}},
{"transform":[{"filter":"datum.k=='R'"}],"mark":{"type":"line","strokeWidth":2},"encoding":{"stroke":{"datum":"RP (15-sol smoother)"}}}
]}
]},
{"title":"(h) MY 32","width":276,"height":189,"data":{"name":"h"},"transform":[{"fold":["B","b","c","R","r","s"],"as":["k","v"]}],
"layer":[
{"encoding":{"x":{"field":"x","type":"quantitative","scale":{"domain":[0,360],"nice":false},"axis":{"values":[0,15,30,45,60,75,90,105,120,135,150,165,180,195,210,225,240,255,270,285,300,315,330,345],"tickCount":100,"labelExpr":"datum.value%90==0?''+datum.value:''","labelOverlap":false},"title":"Solar Longitude (deg)"},"y":{"field":"v","type":"quantitative","scale":{"domain":[-6.5,3],"nice":false},"axis":{"values":[-6.4,-6,-5.6,-5.2,-4.8,-4.4,-4,-3.6,-3.2,-2.8,-2.4,-2,-1.6,-1.2,-0.8,-0.4,0,0.4,0.8,1.2,1.6,2,2.4,2.8],"tickCount":100,"labelExpr":"datum.value%2==0?''+datum.value:''","labelOverlap":false},"title":null}},
"layer":[
{"transform":[{"filter":"datum.k=='b'||datum.k=='c'"}],"mark":{"type":"circle","size":30,"opacity":0.7},"encoding":{"fill":{"datum":"BV (every 0.25 sol)"}}},
{"transform":[{"filter":"datum.k=='r'||datum.k=='s'"}],"mark":{"type":"circle","size":30,"opacity":0.7},"encoding":{"fill":{"datum":"RP (every 0.25 sol)"}}}
]},
{"transform":[{"filter":"datum.x==0&&datum.k=='B'"}],"mark":{"type":"rule","color":"#ff0000","strokeWidth":1},"encoding":{"y":{"datum":0,"type":"quantitative","title":null}}},
{"transform":[{"filter":"datum.x%90==0&&datum.k=='B'"}],"mark":{"type":"rule","color":"#000000","strokeWidth":2.5,"strokeDash":[8,5]},"encoding":{"x":{"field":"x","type":"quantitative","title":"Solar Longitude (deg)"}}},
{"encoding":{"x":{"field":"x","type":"quantitative","title":"Solar Longitude (deg)"},"y":{"field":"v","type":"quantitative","title":null}},
"layer":[
{"transform":[{"filter":"datum.k=='B'"}],"mark":{"type":"line","strokeWidth":2},"encoding":{"stroke":{"datum":"BV (15-sol smoother)"}}},
{"transform":[{"filter":"datum.k=='R'"}],"mark":{"type":"line","strokeWidth":2},"encoding":{"stroke":{"datum":"RP (15-sol smoother)"}}}
]}
]}
],"spacing":43}
],
"spacing":14
}
